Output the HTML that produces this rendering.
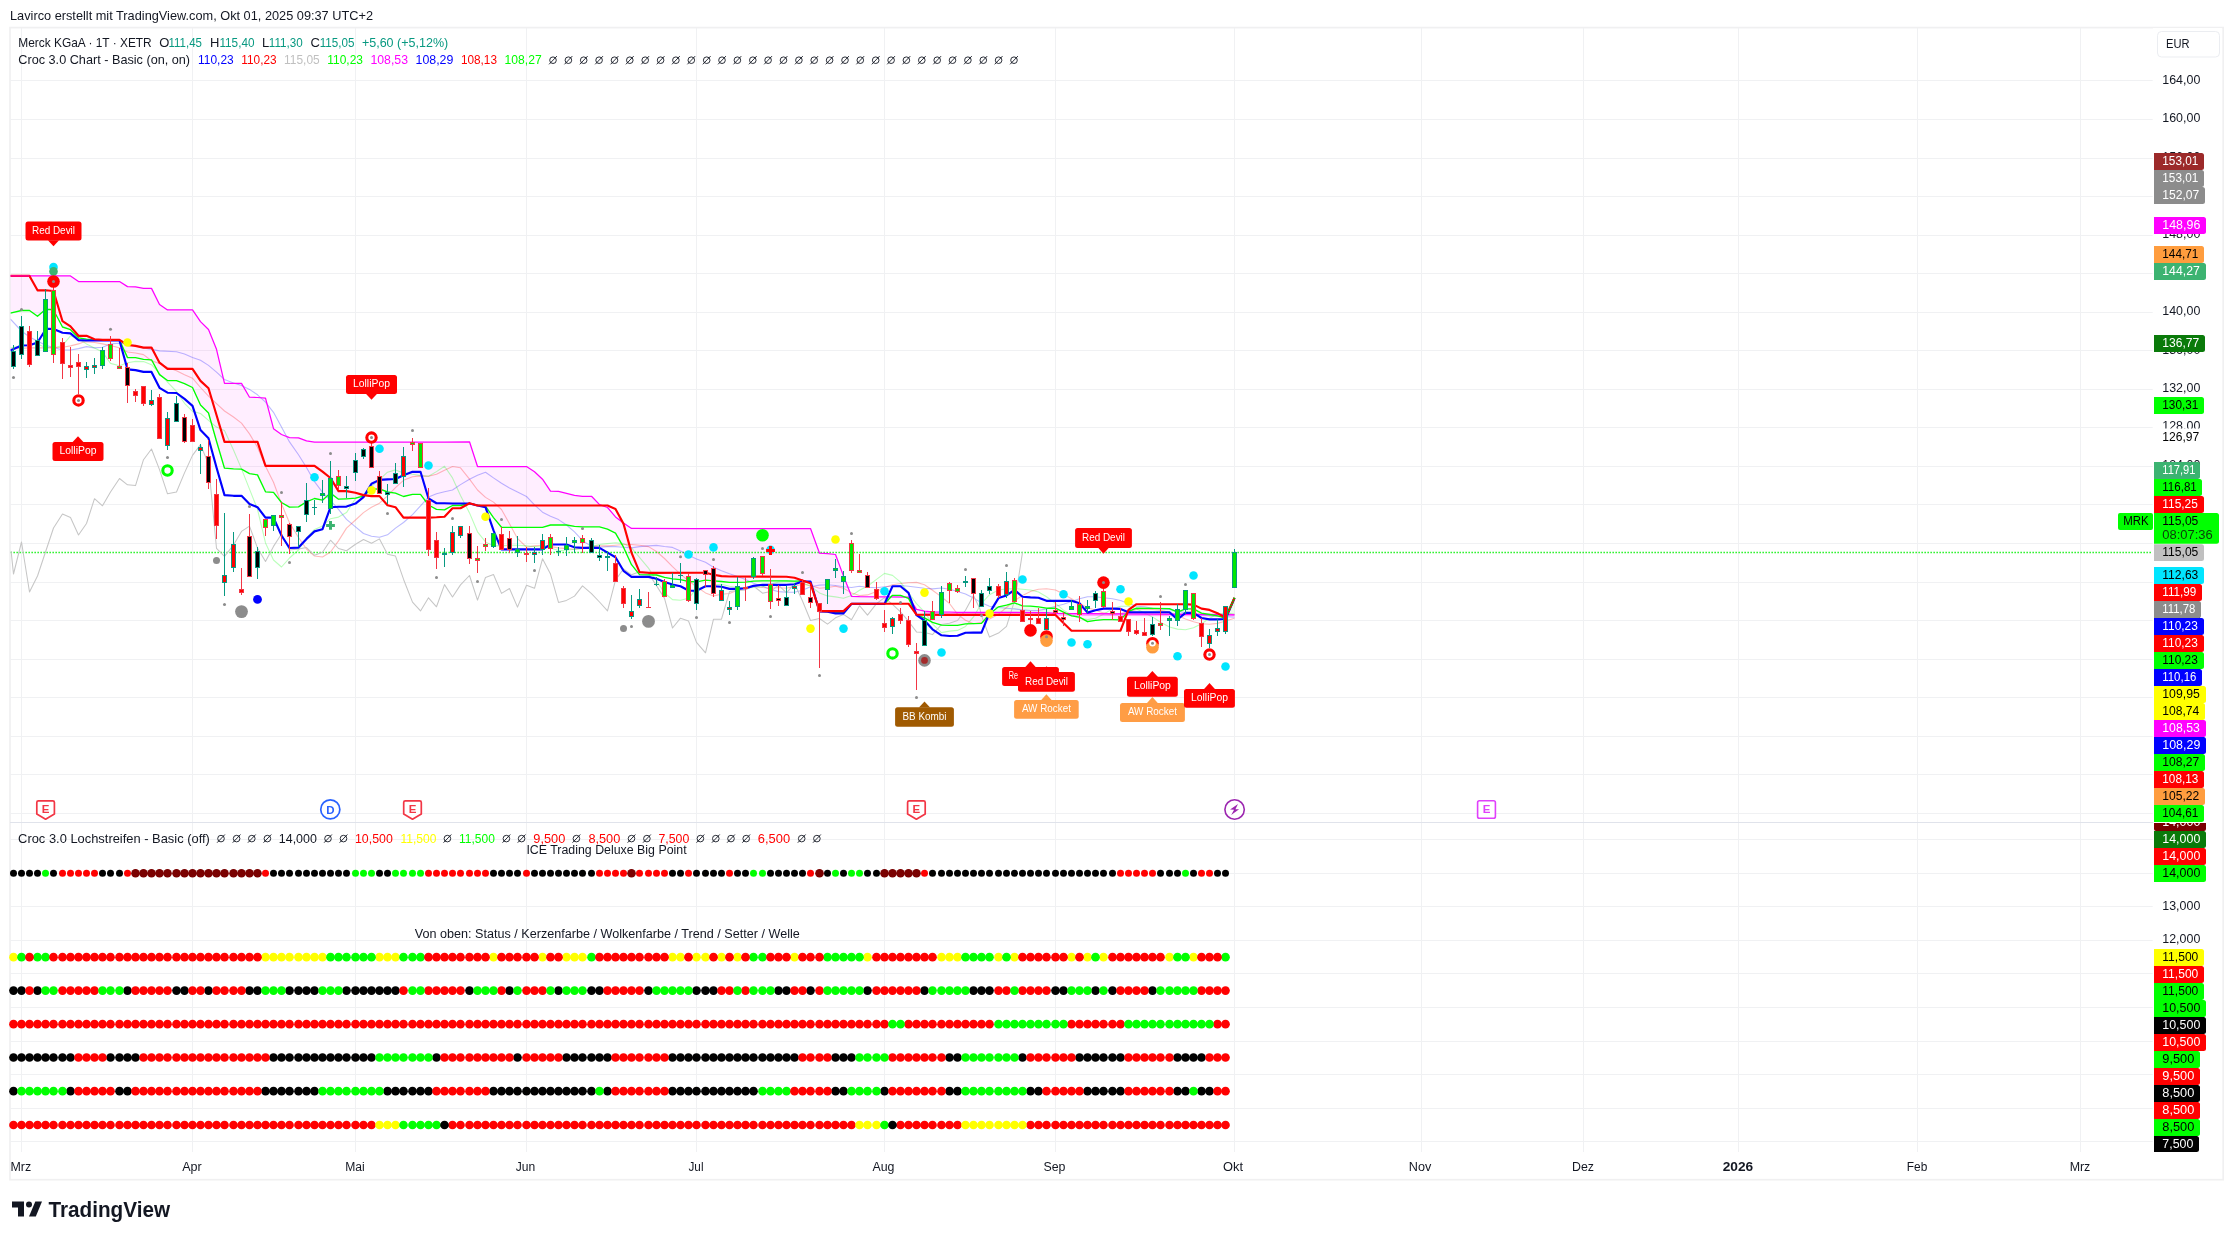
<!DOCTYPE html>
<html lang="de"><head><meta charset="utf-8"><title>Merck KGaA - TradingView</title>
<style>
html,body{margin:0;padding:0;background:#fff;width:2233px;height:1240px;overflow:hidden}
svg{display:block;font-family:"Liberation Sans",sans-serif;will-change:transform;opacity:0.9999}
</style></head><body>
<svg width="2233" height="1240" viewBox="0 0 2233 1240">
<defs>
<clipPath id="cm"><rect x="10.5" y="28" width="2142.5" height="794"/></clipPath>
<clipPath id="cl"><rect x="2150" y="823" width="72" height="330"/></clipPath>
</defs>
<rect x="0" y="0" width="2233" height="1240" fill="#ffffff"/>
<rect x="10" y="27.6" width="2213.2" height="1152.1" fill="none" stroke="#f0f0f1" stroke-width="1.7"/>
<path d="M21.5 28V1152 M192.5 28V1152 M355.5 28V1152 M526.5 28V1152 M696.5 28V1152 M884.5 28V1152 M1055.5 28V1152 M1234.5 28V1152 M1421.5 28V1152 M1583.5 28V1152 M1738.5 28V1152 M1917.5 28V1152 M2080.5 28V1152 M10 80.5H2152.7 M10 119.5H2152.7 M10 158.5H2152.7 M10 196.5H2152.7 M10 235.5H2152.7 M10 273.5H2152.7 M10 312.5H2152.7 M10 350.5H2152.7 M10 389.5H2152.7 M10 427.5H2152.7 M10 466.5H2152.7 M10 504.5H2152.7 M10 543.5H2152.7 M10 582.5H2152.7 M10 620.5H2152.7 M10 659.5H2152.7 M10 697.5H2152.7 M10 736.5H2152.7 M10 774.5H2152.7 M10 813.5H2152.7 M10 839.5H2152.7 M10 873.5H2152.7 M10 906.5H2152.7 M10 940.5H2152.7 M10 973.5H2152.7 M10 1007.5H2152.7 M10 1041.5H2152.7 M10 1074.5H2152.7 M10 1108.5H2152.7 M10 1141.5H2152.7" stroke="#f0f1f3" stroke-width="1" fill="none"/>
<path d="M10 822.5H2222" stroke="#e0e3eb" stroke-width="1"/>
<g id="main" clip-path="url(#cm)">
<polygon points="10.3,275.9 13.5,275.9 15.5,275.9 17.5,275.9 19.5,275.9 21.5,275.9 23.5,275.9 25.5,275.9 27.5,275.9 29.5,275.9 31.5,275.9 33.5,275.9 35.5,275.9 37.5,275.9 39.5,275.9 41.5,275.9 43.5,275.9 45.5,275.9 47.5,275.9 49.5,275.9 51.5,275.9 53.5,275.9 55.8,275.9 58.0,275.9 60.2,275.9 62.5,275.9 64.5,275.9 66.5,275.9 68.5,275.9 70.5,275.9 72.5,277.3 74.5,278.7 76.5,280.1 78.5,281.5 80.5,281.5 82.5,281.5 84.5,281.5 86.5,281.5 88.5,281.5 90.5,281.5 92.5,281.5 94.5,281.5 96.5,281.5 98.5,281.5 100.5,281.5 102.5,281.5 104.5,281.5 106.5,281.5 108.5,281.5 110.5,281.5 112.8,281.5 115.0,281.5 117.2,281.5 119.5,281.5 121.5,282.8 123.5,284.1 125.5,285.3 127.5,286.6 129.5,286.7 131.5,286.8 133.5,286.8 135.5,286.9 137.5,287.3 139.5,287.6 141.5,288.0 143.5,288.4 145.5,288.4 147.5,288.4 149.5,288.4 151.5,288.4 153.5,292.4 155.5,296.4 157.5,300.5 159.5,304.5 161.5,305.9 163.5,307.2 165.5,308.5 167.5,309.9 169.8,309.9 172.0,309.9 174.2,309.9 176.5,309.9 178.5,309.9 180.5,309.9 182.5,309.9 184.5,309.9 186.5,309.9 188.5,309.9 190.5,309.9 192.5,309.9 194.5,312.8 196.5,315.8 198.5,318.7 200.5,321.6 202.5,323.6 204.5,325.6 206.5,327.5 208.5,329.5 210.5,334.4 212.5,339.4 214.5,344.4 216.5,349.3 218.5,357.8 220.5,366.3 222.5,374.8 224.5,383.3 226.8,383.3 229.0,383.3 231.2,383.3 233.5,383.4 235.5,383.4 237.5,383.4 239.5,383.4 241.5,383.4 243.5,386.8 245.5,390.3 247.5,393.8 249.5,397.2 251.5,397.3 253.5,397.4 255.5,397.4 257.5,397.5 259.5,397.7 261.5,397.9 263.5,398.0 265.5,398.2 267.5,405.8 269.5,413.4 271.5,421.1 273.5,428.7 275.5,430.1 277.5,431.6 279.5,433.1 281.5,434.5 283.5,435.3 285.5,436.1 287.5,436.8 289.5,437.6 291.8,437.7 294.0,437.8 296.2,437.8 298.5,437.9 300.5,438.6 302.5,439.4 304.5,440.1 306.5,440.9 308.5,441.2 310.5,441.5 312.5,441.9 314.5,442.2 316.5,442.2 318.5,442.2 320.5,442.2 322.5,442.2 324.5,442.2 326.5,442.2 328.5,442.2 330.5,442.2 332.5,442.2 334.5,442.2 336.5,442.2 338.5,442.2 340.5,442.2 342.5,442.2 344.5,442.2 346.5,442.2 348.8,442.2 351.0,442.2 353.2,442.2 355.5,442.2 357.5,442.2 359.5,442.2 361.5,442.2 363.5,442.2 365.5,442.2 367.5,442.2 369.5,442.2 371.5,442.2 373.5,442.2 375.5,442.2 377.5,442.2 379.5,442.2 381.5,442.2 383.5,442.2 385.5,442.2 387.5,442.2 389.5,442.2 391.5,442.2 393.5,442.2 395.5,442.2 397.5,442.2 399.5,442.2 401.5,442.2 403.5,442.2 405.8,442.2 408.0,442.2 410.2,442.2 412.5,442.2 414.5,442.2 416.5,442.2 418.5,442.2 420.5,442.2 422.5,442.2 424.5,442.2 426.5,442.2 428.5,442.2 430.5,442.2 432.5,442.2 434.5,442.2 436.5,442.2 438.5,442.2 440.5,442.2 442.5,442.2 444.5,442.2 446.5,442.2 448.5,442.1 450.5,442.1 452.5,442.1 454.5,442.0 456.5,442.0 458.5,442.0 460.5,441.9 462.8,441.9 465.0,441.9 467.2,441.8 469.5,441.8 471.5,448.0 473.5,454.1 475.5,460.3 477.5,466.5 479.5,466.5 481.5,466.5 483.5,466.5 485.5,466.5 487.5,466.5 489.5,466.5 491.5,466.5 493.5,466.5 495.5,466.5 497.5,466.5 499.5,466.5 501.5,466.5 503.5,466.5 505.5,466.5 507.5,466.5 509.5,466.5 511.5,466.5 513.5,466.5 515.5,466.5 517.5,466.5 519.8,466.5 522.0,466.5 524.2,466.5 526.5,466.5 528.5,467.8 530.5,469.1 532.5,470.5 534.5,471.8 536.5,473.6 538.5,475.5 540.5,477.4 542.5,479.2 544.5,482.2 546.5,485.1 548.5,488.1 550.5,491.1 552.5,491.2 554.5,491.2 556.5,491.3 558.5,491.4 560.5,491.9 562.5,492.4 564.5,492.9 566.5,493.4 568.5,493.9 570.5,494.4 572.5,494.9 574.5,495.4 576.5,495.6 578.5,495.9 580.5,496.1 582.5,496.3 584.8,496.3 587.0,496.3 589.2,496.3 591.5,496.3 593.5,498.4 595.5,500.5 597.5,502.5 599.5,504.6 601.5,505.3 603.5,506.1 605.5,506.8 607.5,507.5 609.5,509.9 611.5,512.2 613.5,514.5 615.5,516.9 617.5,518.4 619.5,520.0 621.5,521.5 623.5,523.0 625.5,524.4 627.5,525.7 629.5,527.0 631.5,528.4 633.5,528.4 635.5,528.4 637.5,528.4 639.5,528.4 641.8,528.4 644.0,528.4 646.2,528.4 648.5,528.4 650.5,528.4 652.5,528.4 654.5,528.4 656.5,528.4 658.5,528.4 660.5,528.4 662.5,528.4 664.5,528.5 666.5,528.5 668.5,528.5 670.5,528.5 672.5,528.5 674.5,528.5 676.5,528.5 678.5,528.5 680.5,528.5 682.5,528.5 684.5,528.5 686.5,528.5 688.5,528.5 690.5,528.5 692.5,528.5 694.5,528.5 696.5,528.5 698.8,528.5 701.0,528.5 703.2,528.5 705.5,528.5 707.5,528.5 709.5,528.5 711.5,528.5 713.5,528.5 715.5,528.5 717.5,528.5 719.5,528.5 721.5,528.5 723.5,528.5 725.5,528.5 727.5,528.5 729.5,528.5 731.5,528.5 733.5,528.5 735.5,528.5 737.5,528.5 739.5,528.5 741.5,528.5 743.5,528.5 745.5,528.5 747.5,528.5 749.5,528.5 751.5,528.5 753.5,528.5 755.8,528.5 758.0,528.5 760.2,528.5 762.5,528.5 764.5,528.5 766.5,528.5 768.5,528.5 770.5,528.5 772.5,528.5 774.5,528.5 776.5,528.5 778.5,528.5 780.5,528.5 782.5,528.5 784.5,528.5 786.5,528.5 788.5,528.5 790.5,528.5 792.5,528.5 794.5,528.5 796.5,528.5 798.5,528.5 800.5,528.5 802.5,528.5 804.5,528.5 806.5,528.5 808.5,528.5 810.5,528.5 812.8,534.7 815.0,540.9 817.2,547.0 819.5,553.2 821.5,553.3 823.5,553.4 825.5,553.5 827.5,553.6 829.5,553.8 831.5,554.0 833.5,554.3 835.5,554.5 837.5,559.9 839.5,565.3 841.5,570.7 843.5,576.1 845.5,581.1 847.5,586.2 849.5,591.2 851.5,596.3 853.5,596.4 855.5,596.5 857.5,596.6 859.5,596.7 861.5,596.7 863.5,596.7 865.5,596.8 867.5,596.8 869.8,596.8 872.0,596.8 874.2,596.8 876.5,596.9 878.5,596.9 880.5,596.9 882.5,596.9 884.5,597.0 886.5,597.0 888.5,597.0 890.5,597.0 892.5,597.0 892.5,595.3 890.5,597.4 888.5,599.5 886.5,601.6 884.5,603.7 882.5,603.7 880.5,603.7 878.5,603.7 876.5,603.7 874.2,603.7 872.0,603.7 869.8,603.7 867.5,603.7 865.5,603.7 863.5,603.7 861.5,603.7 859.5,603.7 857.5,603.7 855.5,603.7 853.5,603.7 851.5,603.7 849.5,605.8 847.5,608.0 845.5,610.1 843.5,612.2 841.5,612.2 839.5,612.2 837.5,612.2 835.5,612.2 833.5,612.0 831.5,611.9 829.5,611.7 827.5,611.5 825.5,611.4 823.5,611.4 821.5,611.3 819.5,611.2 817.2,604.0 815.0,596.8 812.8,589.6 810.5,582.4 808.5,582.0 806.5,581.6 804.5,581.2 802.5,580.8 800.5,580.9 798.5,581.0 796.5,581.0 794.5,581.1 792.5,581.0 790.5,581.0 788.5,580.9 786.5,580.8 784.5,580.8 782.5,580.8 780.5,580.8 778.5,580.8 776.5,580.8 774.5,580.8 772.5,580.8 770.5,580.8 768.5,580.8 766.5,580.8 764.5,580.8 762.5,580.8 760.2,580.9 758.0,581.0 755.8,581.1 753.5,581.2 751.5,581.4 749.5,581.7 747.5,581.9 745.5,582.1 743.5,582.2 741.5,582.2 739.5,582.3 737.5,582.4 735.5,582.4 733.5,582.4 731.5,582.4 729.5,582.4 727.5,582.2 725.5,582.0 723.5,581.7 721.5,581.5 719.5,581.3 717.5,581.1 715.5,581.0 713.5,580.8 711.5,580.6 709.5,580.5 707.5,580.3 705.5,580.1 703.2,580.5 701.0,581.0 698.8,581.5 696.5,581.9 694.5,581.8 692.5,581.7 690.5,581.6 688.5,581.5 686.5,581.0 684.5,580.6 682.5,580.2 680.5,579.7 678.5,579.5 676.5,579.2 674.5,579.0 672.5,578.8 670.5,578.4 668.5,578.1 666.5,577.8 664.5,577.4 662.5,576.8 660.5,576.2 658.5,575.6 656.5,575.0 654.5,575.0 652.5,574.9 650.5,574.8 648.5,574.8 646.2,574.8 644.0,574.7 641.8,574.6 639.5,574.6 637.5,572.1 635.5,569.7 633.5,567.2 631.5,564.7 629.5,560.3 627.5,556.0 625.5,551.6 623.5,547.2 621.5,543.7 619.5,540.2 617.5,536.6 615.5,533.1 613.5,532.1 611.5,531.1 609.5,530.1 607.5,529.1 605.5,528.5 603.5,528.0 601.5,527.4 599.5,526.8 597.5,526.8 595.5,526.8 593.5,526.8 591.5,526.8 589.2,526.8 587.0,526.8 584.8,526.8 582.5,526.8 580.5,526.7 578.5,526.6 576.5,526.5 574.5,526.4 572.5,526.0 570.5,525.7 568.5,525.4 566.5,525.0 564.5,525.0 562.5,525.0 560.5,525.0 558.5,525.0 556.5,525.0 554.5,525.0 552.5,525.0 550.5,525.0 548.5,525.6 546.5,526.1 544.5,526.7 542.5,527.3 540.5,527.3 538.5,527.3 536.5,527.3 534.5,527.3 532.5,527.3 530.5,527.3 528.5,527.3 526.5,527.3 524.2,527.3 522.0,527.3 519.8,527.3 517.5,527.3 515.5,527.3 513.5,527.3 511.5,527.3 509.5,527.3 507.5,527.3 505.5,527.3 503.5,527.3 501.5,527.3 499.5,524.9 497.5,522.5 495.5,520.0 493.5,517.6 491.5,514.8 489.5,511.9 487.5,509.1 485.5,506.2 483.5,505.9 481.5,505.6 479.5,505.4 477.5,505.1 475.5,504.7 473.5,504.3 471.5,503.9 469.5,503.5 467.2,504.0 465.0,504.5 462.8,505.0 460.5,505.5 458.5,505.5 456.5,505.5 454.5,505.5 452.5,505.5 450.5,506.6 448.5,507.7 446.5,508.8 444.5,509.9 442.5,509.8 440.5,509.6 438.5,509.4 436.5,509.3 434.5,508.2 432.5,507.1 430.5,506.1 428.5,505.0 426.5,502.4 424.5,499.7 422.5,497.0 420.5,494.4 418.5,494.4 416.5,494.4 414.5,494.4 412.5,494.4 410.2,494.9 408.0,495.4 405.8,496.0 403.5,496.5 401.5,495.6 399.5,494.8 397.5,494.0 395.5,493.1 393.5,492.8 391.5,492.6 389.5,492.3 387.5,492.0 385.5,491.2 383.5,490.4 381.5,489.6 379.5,488.8 377.5,488.9 375.5,489.0 373.5,489.0 371.5,489.1 369.5,490.9 367.5,492.6 365.5,494.4 363.5,496.1 361.5,496.6 359.5,497.1 357.5,497.7 355.5,498.2 353.2,498.4 351.0,498.5 348.8,498.6 346.5,498.8 344.5,498.9 342.5,499.0 340.5,499.1 338.5,499.2 336.5,497.7 334.5,496.1 332.5,494.6 330.5,493.1 328.5,494.9 326.5,496.6 324.5,498.4 322.5,500.2 320.5,499.8 318.5,499.4 316.5,498.9 314.5,498.5 312.5,499.4 310.5,500.2 308.5,501.0 306.5,501.9 304.5,503.1 302.5,504.4 300.5,505.6 298.5,506.8 296.2,506.9 294.0,507.0 291.8,507.1 289.5,507.2 287.5,506.0 285.5,504.9 283.5,503.7 281.5,502.5 279.5,500.0 277.5,497.4 275.5,494.9 273.5,492.4 271.5,492.2 269.5,492.1 267.5,491.9 265.5,491.8 263.5,487.6 261.5,483.4 259.5,479.1 257.5,474.9 255.5,474.6 253.5,474.2 251.5,473.9 249.5,473.6 247.5,472.5 245.5,471.4 243.5,470.2 241.5,469.1 239.5,469.1 237.5,469.0 235.5,468.9 233.5,468.9 231.2,468.7 229.0,468.5 226.8,468.4 224.5,468.2 222.5,461.5 220.5,454.8 218.5,448.0 216.5,441.3 214.5,434.2 212.5,427.1 210.5,420.1 208.5,413.0 206.5,411.0 204.5,409.0 202.5,407.0 200.5,405.0 198.5,400.6 196.5,396.2 194.5,391.9 192.5,387.5 190.5,386.5 188.5,385.6 186.5,384.6 184.5,383.6 182.5,382.9 180.5,382.1 178.5,381.4 176.5,380.7 174.2,380.6 172.0,380.6 169.8,380.6 167.5,380.5 165.5,379.0 163.5,377.6 161.5,376.1 159.5,374.6 157.5,370.9 155.5,367.2 153.5,363.5 151.5,359.8 149.5,359.7 147.5,359.6 145.5,359.4 143.5,359.3 141.5,358.9 139.5,358.5 137.5,358.0 135.5,357.6 133.5,357.6 131.5,357.6 129.5,357.6 127.5,357.6 125.5,353.2 123.5,348.9 121.5,344.5 119.5,340.1 117.2,340.1 115.0,340.1 112.8,340.1 110.5,340.1 108.5,340.1 106.5,340.1 104.5,340.1 102.5,340.1 100.5,340.1 98.5,340.1 96.5,340.1 94.5,340.1 92.5,339.9 90.5,339.6 88.5,339.4 86.5,339.2 84.5,338.9 82.5,338.5 80.5,338.1 78.5,337.8 76.5,335.8 74.5,333.8 72.5,331.7 70.5,329.7 68.5,329.0 66.5,328.4 64.5,327.7 62.5,327.0 60.2,322.8 58.0,318.5 55.8,314.2 53.5,310.0 51.5,309.7 49.5,309.5 47.5,309.5 45.5,309.5 43.5,311.2 41.5,312.9 39.5,314.6 37.5,316.3 35.5,314.9 33.5,313.4 31.5,311.9 29.5,310.5 27.5,310.5 25.5,310.5 23.5,310.5 21.5,310.5 19.5,311.0 17.5,311.5 15.5,311.9 13.5,312.4 10.3,313.2" fill="#ff00ff" fill-opacity="0.065"/>
<polygon points="892.5,597.0 894.5,597.1 896.5,597.1 898.5,597.1 900.5,597.1 902.5,597.1 904.5,597.2 906.5,597.2 906.5,597.5 904.5,596.8 902.5,596.0 900.5,595.3 898.5,595.3 896.5,595.3 894.5,595.3 892.5,595.3" fill="#00ff00" fill-opacity="0.07"/>
<polygon points="906.5,597.2 908.5,597.2 910.5,600.2 912.5,603.2 914.5,606.3 916.5,609.3 918.5,609.8 920.5,610.2 922.5,610.6 924.5,611.1 926.5,611.3 928.5,611.5 930.5,611.6 932.5,611.8 934.8,611.8 937.0,611.8 939.2,611.9 941.5,611.9 943.5,611.9 945.5,612.0 947.5,612.0 949.5,612.0 951.5,612.1 953.5,612.1 955.5,612.2 957.5,612.3 959.5,612.3 961.5,612.3 963.5,612.3 965.5,612.3 967.5,612.3 969.5,612.3 971.5,612.3 973.5,612.3 975.5,612.3 977.5,612.3 979.5,612.3 981.5,612.4 983.5,612.4 985.5,612.4 987.5,612.4 989.5,612.4 991.8,612.4 991.8,612.2 989.5,614.0 987.5,616.4 985.5,618.7 983.5,621.0 981.5,623.4 979.5,623.5 977.5,623.5 975.5,623.6 973.5,623.7 971.5,623.8 969.5,623.8 967.5,623.9 965.5,623.9 963.5,624.2 961.5,624.6 959.5,624.9 957.5,625.3 955.5,625.3 953.5,625.3 951.5,625.4 949.5,625.4 947.5,625.4 945.5,625.3 943.5,625.2 941.5,625.2 939.2,624.5 937.0,623.8 934.8,623.0 932.5,622.3 930.5,621.2 928.5,620.0 926.5,618.9 924.5,617.8 922.5,617.1 920.5,616.5 918.5,615.8 916.5,615.1 914.5,610.9 912.5,606.7 910.5,602.5 908.5,598.3 906.5,597.5" fill="#ff00ff" fill-opacity="0.065"/>
<polygon points="991.8,612.4 994.0,612.4 996.2,612.4 998.5,612.4 1000.5,612.4 1002.5,612.4 1004.5,612.4 1006.5,612.4 1008.5,612.4 1010.5,612.4 1012.5,612.4 1014.5,612.4 1016.5,612.4 1018.5,612.4 1020.5,612.4 1022.5,612.4 1024.5,612.5 1026.5,612.5 1028.5,612.5 1030.5,612.5 1032.5,612.5 1034.5,612.5 1036.5,612.5 1038.5,612.5 1040.5,612.5 1042.5,612.5 1044.5,612.5 1046.5,612.5 1048.8,612.7 1051.0,612.9 1053.2,613.1 1055.5,613.3 1057.5,613.3 1059.5,613.3 1061.5,613.3 1063.5,613.4 1065.5,613.4 1067.5,613.4 1067.5,614.0 1065.5,613.1 1063.5,612.2 1061.5,611.2 1059.5,610.2 1057.5,609.2 1055.5,608.2 1053.2,608.2 1051.0,608.2 1048.8,608.2 1046.5,608.2 1044.5,607.9 1042.5,607.5 1040.5,607.1 1038.5,606.8 1036.5,606.6 1034.5,606.5 1032.5,606.4 1030.5,606.2 1028.5,606.1 1026.5,606.0 1024.5,606.0 1022.5,605.9 1020.5,605.1 1018.5,604.3 1016.5,603.6 1014.5,602.8 1012.5,603.4 1010.5,604.0 1008.5,604.5 1006.5,605.1 1004.5,605.5 1002.5,606.0 1000.5,606.4 998.5,606.8 996.2,608.6 994.0,610.4 991.8,612.2" fill="#00ff00" fill-opacity="0.07"/>
<polygon points="1067.5,613.4 1069.5,613.4 1071.5,613.4 1073.5,613.4 1075.5,613.4 1077.5,613.5 1079.5,613.5 1081.5,613.5 1083.5,613.5 1085.5,613.5 1087.5,613.5 1089.5,613.5 1091.5,613.6 1093.5,613.6 1095.5,613.6 1097.5,613.6 1099.5,613.6 1101.5,613.6 1103.5,613.6 1105.8,613.7 1108.0,613.7 1110.2,613.7 1112.5,613.7 1114.5,613.7 1116.5,613.7 1118.5,613.8 1120.5,613.8 1122.5,613.8 1124.5,613.8 1126.5,613.8 1126.5,613.4 1124.5,615.6 1122.5,617.8 1120.5,619.9 1118.5,619.8 1116.5,619.8 1114.5,619.7 1112.5,619.6 1110.2,619.6 1108.0,619.6 1105.8,619.6 1103.5,619.6 1101.5,619.8 1099.5,620.0 1097.5,620.1 1095.5,620.3 1093.5,620.6 1091.5,621.0 1089.5,621.4 1087.5,621.7 1085.5,620.6 1083.5,619.5 1081.5,618.3 1079.5,617.2 1077.5,616.9 1075.5,616.5 1073.5,616.2 1071.5,615.9 1069.5,615.0 1067.5,614.0" fill="#ff00ff" fill-opacity="0.065"/>
<polygon points="1126.5,613.8 1128.5,613.8 1130.5,613.8 1132.5,613.9 1134.5,613.9 1136.5,613.9 1138.5,613.9 1140.5,613.9 1142.5,613.9 1144.5,613.9 1146.5,614.0 1148.5,614.0 1150.5,614.0 1152.5,614.0 1154.5,614.0 1156.5,614.0 1158.5,614.1 1160.5,614.1 1162.8,614.1 1165.0,614.1 1167.2,614.1 1169.5,614.2 1171.5,614.2 1173.5,614.2 1175.5,614.2 1177.5,614.2 1179.5,614.3 1181.5,614.3 1183.5,614.3 1185.5,614.3 1187.5,614.3 1189.5,614.4 1191.5,614.4 1193.5,614.4 1195.5,614.4 1197.5,614.4 1199.5,614.4 1201.5,614.5 1203.5,614.5 1205.5,614.5 1207.5,614.5 1209.5,614.5 1211.5,614.6 1211.5,614.9 1209.5,614.5 1207.5,614.2 1205.5,613.9 1203.5,613.5 1201.5,613.2 1199.5,612.1 1197.5,611.0 1195.5,610.0 1193.5,608.9 1191.5,608.9 1189.5,608.9 1187.5,608.9 1185.5,608.9 1183.5,609.7 1181.5,610.5 1179.5,611.4 1177.5,612.2 1175.5,611.3 1173.5,610.4 1171.5,609.5 1169.5,608.6 1167.2,608.6 1165.0,608.6 1162.8,608.5 1160.5,608.5 1158.5,608.5 1156.5,608.5 1154.5,608.4 1152.5,608.4 1150.5,608.4 1148.5,608.4 1146.5,608.3 1144.5,608.3 1142.5,608.3 1140.5,608.2 1138.5,608.2 1136.5,608.2 1134.5,609.0 1132.5,609.8 1130.5,610.5 1128.5,611.3 1126.5,613.4" fill="#00ff00" fill-opacity="0.07"/>
<polygon points="1211.5,614.6 1213.5,614.6 1215.5,614.6 1217.5,614.6 1219.5,614.6 1221.5,614.7 1223.5,614.7 1225.5,614.7 1227.8,614.8 1227.8,613.0 1225.5,618.0 1223.5,617.5 1221.5,617.0 1219.5,616.4 1217.5,615.9 1215.5,615.5 1213.5,615.2 1211.5,614.9" fill="#ff00ff" fill-opacity="0.065"/>
<polygon points="1227.8,614.8 1230.0,614.8 1232.2,614.9 1234.5,614.9 1234.5,597.8 1232.2,602.8 1230.0,607.9 1227.8,613.0" fill="#00ff00" fill-opacity="0.07"/>
<path d="M10.5 552.5H2152" stroke="#00f000" stroke-width="1.3" stroke-dasharray="1.3 1.7" fill="none"/>
<polyline points="10.3,319.0 21.5,331.0 29.5,337.0 37.5,341.0 45.5,345.2 62.5,350.0 70.5,350.0 78.5,348.6 86.5,346.6 94.5,347.9 102.5,347.2 110.5,343.9 119.5,343.2 127.5,343.9 143.5,347.9 159.5,350.9 176.5,351.7 184.5,354.0 192.5,357.6 200.5,360.3 208.5,365.4 216.5,372.1 224.5,379.5 233.5,382.9 241.5,385.4 249.5,389.4 257.5,394.8 265.5,402.2 273.5,412.3 281.5,427.1 289.5,441.9 298.5,454.7 306.5,467.5 314.5,481.7 322.5,492.4 330.5,500.5 338.5,509.3 346.5,519.4 355.5,526.8 363.5,533.5 371.5,536.2 379.5,537.3 387.5,534.8 395.5,528.1 403.5,522.5 412.5,514.6 420.5,505.9 428.5,497.1 436.5,493.8 444.5,491.8 452.5,490.0 460.5,484.6 469.5,479.2 477.5,475.2 485.5,472.2 493.5,477.9 501.5,483.3 509.5,488.0 517.5,492.0 526.5,496.5 534.5,504.8 542.5,512.2 550.5,516.3 558.5,519.6 566.5,525.0 574.5,531.8 582.5,540.5 591.5,546.6 599.5,547.2 607.5,546.6 615.5,546.6 623.5,547.2 631.5,547.9 639.5,546.6 648.5,545.9 656.5,545.4 664.5,546.5 672.5,547.4 680.5,550.9 688.5,555.2 696.5,559.0 705.5,562.2 713.5,567.3 721.5,570.7 729.5,573.8 737.5,576.5 745.5,579.4 753.5,583.2 762.5,586.2 770.5,589.5 778.5,591.6 786.5,592.2 794.5,592.2 802.5,590.2 810.5,586.8 819.5,585.1 827.5,584.8 835.5,585.5 843.5,586.8 851.5,587.5 859.5,586.2 867.5,587.2 876.5,587.8 884.5,586.8 892.5,586.2 900.5,585.5 908.5,586.2 916.5,587.2 924.5,588.2 932.5,588.9 941.5,588.0 949.5,589.3 957.5,591.4 965.5,594.1 973.5,598.1 981.5,602.8 989.5,606.2 998.5,607.5 1006.5,608.2 1014.5,608.9 1022.5,609.9 1030.5,610.5 1038.5,610.5 1046.5,608.9 1055.5,606.2 1063.5,604.2 1071.5,601.5 1079.5,598.8 1087.5,596.7 1095.5,596.7 1103.5,597.8 1112.5,598.8 1120.5,600.5 1128.5,603.5 1136.5,606.2 1144.5,606.8 1152.5,608.2 1160.5,608.9 1169.5,609.5 1177.5,610.9 1185.5,612.9 1193.5,614.2 1201.5,614.9 1209.5,615.6 1217.5,616.3 1225.5,616.7 1234.5,617.2" fill="none" stroke="#0000ff" stroke-opacity="0.27" stroke-width="1.1" stroke-linejoin="round"/>
<polyline points="10.3,349.0 29.5,347.9 45.5,347.9 62.5,347.2 70.5,345.9 78.5,343.9 84.1,341.8 94.5,342.5 102.5,343.9 110.5,345.5 119.5,347.9 127.5,352.0 135.5,353.0 143.5,354.6 151.5,360.7 159.5,363.4 167.5,367.4 176.5,370.8 184.5,374.8 192.5,378.2 200.5,387.5 208.5,396.2 216.5,403.6 224.5,411.0 233.5,417.0 241.5,423.1 249.5,433.9 257.5,447.3 265.5,466.2 273.5,482.3 281.5,503.9 289.5,522.7 298.5,537.5 306.5,549.0 314.5,556.0 322.5,557.0 330.5,552.0 338.5,540.9 346.5,528.1 355.5,520.0 363.5,512.6 371.5,507.2 379.5,503.2 387.5,495.8 395.5,487.7 403.5,480.3 412.5,476.7 420.5,475.9 428.5,476.3 436.5,474.3 444.5,470.2 452.5,466.5 460.5,467.8 469.5,479.2 477.5,490.0 485.5,497.4 493.5,502.1 501.5,509.5 509.5,523.7 517.5,538.5 526.5,547.2 534.5,545.9 542.5,545.2 550.5,546.6 558.5,547.9 566.5,548.6 574.5,549.3 582.5,547.9 591.5,546.6 599.5,545.9 607.5,545.9 615.5,545.2 623.5,544.5 631.5,544.5 639.5,545.2 648.5,546.6 656.5,551.5 664.5,558.5 672.5,566.6 680.5,574.1 688.5,580.8 696.5,586.8 705.5,592.9 713.5,595.9 721.5,594.3 729.5,593.5 737.5,590.2 745.5,587.5 753.5,586.2 762.5,587.5 770.5,588.2 778.5,587.5 786.5,588.2 794.5,586.2 802.5,584.2 810.5,585.5 819.5,588.2 827.5,587.5 835.5,586.2 843.5,588.2 851.5,592.9 859.5,595.6 867.5,594.9 876.5,591.6 884.5,587.5 892.5,584.8 900.5,583.5 908.5,582.8 916.5,582.4 924.5,584.8 932.5,590.2 941.5,596.9 949.5,603.5 957.5,614.2 965.5,620.3 973.5,623.7 981.5,622.3 989.5,619.0 998.5,614.2 1006.5,607.5 1014.5,600.8 1022.5,595.4 1030.5,591.4 1038.5,589.3 1046.5,588.7 1055.5,590.0 1063.5,594.1 1071.5,598.8 1079.5,603.5 1087.5,607.5 1095.5,610.2 1103.5,612.9 1112.5,614.2 1120.5,613.6 1128.5,611.6 1136.5,609.5 1144.5,608.9 1152.5,609.5 1160.5,610.2 1169.5,612.2 1177.5,615.6 1185.5,619.0 1193.5,621.7 1201.5,623.7 1209.5,624.3 1217.5,623.4 1225.5,621.0 1234.5,618.3" fill="none" stroke="#ff0000" stroke-opacity="0.27" stroke-width="1.1" stroke-linejoin="round"/>
<polyline points="10.3,348.0 21.5,345.5 29.5,345.0 37.5,343.9 45.5,347.5 53.5,348.0 62.5,345.5 70.5,335.8 78.5,339.0 86.5,343.9 94.5,347.9 102.5,352.0 110.5,363.4 119.5,365.7 127.5,362.7 135.5,361.4 143.5,361.6 151.5,364.7 159.5,373.5 167.5,382.2 176.5,391.5 184.5,403.3 192.5,411.4 200.5,413.5 208.5,420.4 216.5,427.1 224.5,430.5 233.5,450.0 241.5,468.9 249.5,489.1 257.5,509.3 265.5,542.9 273.5,560.0 281.5,567.0 289.5,558.0 298.5,550.0 306.5,538.0 314.5,529.5 322.5,526.1 330.5,518.7 338.5,517.1 346.5,512.6 355.5,498.5 363.5,494.4 371.5,486.4 379.5,479.6 387.5,472.2 395.5,469.9 403.5,472.9 412.5,474.3 420.5,475.6 428.5,476.3 436.5,471.6 444.5,466.2 452.5,477.9 460.5,495.4 469.5,512.9 477.5,531.8 485.5,541.9 493.5,545.9 501.5,545.9 509.5,545.2 517.5,545.2 526.5,545.9 534.5,546.5 542.5,547.0 550.5,547.9 558.5,550.6 566.5,550.3 574.5,549.3 582.5,548.6 591.5,546.6 599.5,544.5 607.5,543.6 615.5,542.8 623.5,543.6 631.5,547.9 639.5,557.3 648.5,568.1 656.5,580.8 664.5,592.9 672.5,599.6 680.5,600.3 688.5,598.3 696.5,588.9 705.5,586.2 713.5,584.8 721.5,584.2 729.5,586.2 737.5,587.5 745.5,588.2 753.5,587.5 762.5,586.8 770.5,584.2 778.5,582.1 786.5,581.5 794.5,581.9 802.5,582.8 810.5,586.2 819.5,592.9 827.5,595.9 835.5,596.9 843.5,598.3 851.5,595.6 859.5,590.2 867.5,586.2 876.5,579.4 884.5,573.4 892.5,575.4 900.5,582.1 908.5,592.9 916.5,603.7 924.5,611.8 932.5,623.9 941.5,632.6 949.5,631.1 957.5,630.4 965.5,626.4 973.5,616.9 981.5,603.5 989.5,594.7 998.5,590.0 1006.5,588.9 1014.5,588.7 1022.5,589.3 1030.5,590.0 1038.5,592.0 1046.5,596.7 1055.5,603.5 1063.5,610.2 1071.5,614.9 1079.5,618.3 1087.5,619.6 1095.5,618.3 1103.5,614.2 1112.5,608.9 1120.5,606.2 1128.5,606.2 1136.5,608.9 1144.5,612.9 1152.5,616.9 1160.5,622.3 1169.5,627.0 1177.5,629.1 1185.5,629.7 1193.5,627.7 1201.5,623.7 1209.5,618.3 1217.5,614.2 1225.5,612.9 1234.5,614.2" fill="none" stroke="#00ff00" stroke-opacity="0.27" stroke-width="1.1" stroke-linejoin="round"/>
<polyline points="11.1,551.0 13.5,574.0 21.5,542.0 29.5,592.0 37.5,576.0 45.5,552.0 53.5,528.0 62.5,514.0 70.5,517.5 78.5,535.0 86.5,523.5 94.5,498.7 102.5,505.8 110.5,492.0 119.5,478.5 127.5,484.8 135.5,485.6 143.5,459.7 151.5,449.0 159.5,469.6 167.5,493.8 176.5,492.0 184.5,472.9 192.5,455.4 200.5,444.6 208.5,464.0 216.5,548.3 224.5,556.4 233.5,545.0 241.5,531.4 249.5,526.1 257.5,548.0 265.5,561.5 273.5,546.4 281.5,534.0 289.5,550.0 298.5,549.0 306.5,547.6 314.5,555.3 322.5,552.3 330.5,540.2 338.5,548.5 346.5,550.7 355.5,544.2 363.5,539.5 371.5,543.2 379.5,538.9 387.5,554.3 395.5,556.1 403.5,579.2 412.5,602.1 420.5,610.9 428.5,597.8 436.5,606.8 444.5,584.6 452.5,597.0 460.5,584.9 469.5,575.5 477.5,600.1 485.5,577.5 493.5,574.5 501.5,593.4 509.5,588.5 517.5,607.1 526.5,585.3 534.5,588.3 542.5,558.8 550.5,574.1 558.5,602.4 566.5,600.4 574.5,596.1 582.5,585.9 591.5,593.7 599.5,602.0 607.5,610.9 615.5,580.2 623.5,568.8 631.5,574.8 639.5,571.8 648.5,573.5 656.5,585.6 664.5,598.4 672.5,628.0 680.5,618.2 688.5,621.0 696.5,642.4 705.5,652.8 713.5,619.2 721.5,619.2 729.5,591.6 737.5,590.5 745.5,589.9 753.5,586.0 762.5,593.2 770.5,591.6 778.5,585.1 786.5,592.9 794.5,583.5 802.5,601.0 810.5,620.5 819.5,618.5 827.5,624.1 835.5,617.8 843.5,614.4 851.5,619.8 859.5,605.7 867.5,615.1 876.5,603.7 884.5,597.6 892.5,604.3 900.5,611.8 908.5,621.2 916.5,631.9 924.5,632.6 932.5,634.6 941.5,624.5 949.5,623.2 957.5,620.5 965.5,610.2 973.5,595.4 979.9,609.0 981.5,615.6 989.5,637.1 998.5,633.1 1006.5,626.4 1014.5,600.8 1018.5,578.0 1022.5,552.3" fill="none" stroke="#c6c6c6" stroke-width="1.05" stroke-linejoin="round"/>
<polyline points="10.3,275.9 70.5,275.9 78.5,281.5 119.5,281.5 127.5,286.6 135.5,286.9 143.5,288.4 151.5,288.4 159.5,304.5 167.5,309.9 192.5,309.9 200.5,321.6 208.5,329.5 216.5,349.3 224.5,383.3 241.5,383.4 249.5,397.2 257.5,397.5 265.5,398.2 273.5,428.7 281.5,434.5 289.5,437.6 298.5,437.9 306.5,440.9 314.5,442.2 444.5,442.2 469.5,441.8 477.5,466.5 526.5,466.5 534.5,471.8 542.5,479.2 550.5,491.1 558.5,491.4 566.5,493.4 574.5,495.4 582.5,496.3 591.5,496.3 599.5,504.6 607.5,507.5 615.5,516.9 623.5,523.0 631.5,528.4 696.5,528.5 810.5,528.5 819.5,553.2 827.5,553.6 835.5,554.5 843.5,576.1 851.5,596.3 859.5,596.7 908.5,597.2 916.5,609.3 924.5,611.1 932.5,611.8 949.5,612.0 957.5,612.3 1046.5,612.5 1055.5,613.3 1152.5,614.0 1225.5,614.7 1234.5,614.9" fill="none" stroke="#ff00ff" stroke-width="1.25" stroke-linejoin="round"/>
<path d="M924.5 613.2L1055.5 614.4L1234.5 615.2" fill="none" stroke="#ff00ff" stroke-opacity="0.35" stroke-width="2.8"/>
<polyline points="10.3,313.2 21.5,310.5 29.5,310.5 37.5,316.3 45.5,309.5 50.3,309.5 53.5,310.0 62.5,327.0 70.5,329.7 78.5,337.8 86.5,339.2 94.5,340.1 119.5,340.1 127.5,357.6 135.5,357.6 143.5,359.3 151.5,359.8 159.5,374.6 167.5,380.5 176.5,380.7 184.5,383.6 192.5,387.5 200.5,405.0 208.5,413.0 216.5,441.3 224.5,468.2 233.5,468.9 241.5,469.1 249.5,473.6 257.5,474.9 265.5,491.8 273.5,492.4 281.5,502.5 289.5,507.2 298.5,506.8 306.5,501.9 314.5,498.5 322.5,500.2 330.5,493.1 338.5,499.2 346.5,498.8 355.5,498.2 363.5,496.1 371.5,489.1 379.5,488.8 387.5,492.0 395.5,493.1 403.5,496.5 412.5,494.4 420.5,494.4 428.5,505.0 436.5,509.3 444.5,509.9 452.5,505.5 460.5,505.5 469.5,503.5 477.5,505.1 485.5,506.2 493.5,517.6 501.5,527.3 542.5,527.3 550.5,525.0 566.5,525.0 574.5,526.4 582.5,526.8 599.5,526.8 607.5,529.1 615.5,533.1 623.5,547.2 631.5,564.7 639.5,574.6 648.5,574.8 656.5,575.0 664.5,577.4 672.5,578.8 680.5,579.7 688.5,581.5 696.5,581.9 705.5,580.1 713.5,580.8 721.5,581.5 729.5,582.4 737.5,582.4 745.5,582.1 753.5,581.2 762.5,580.8 786.5,580.8 794.5,581.1 802.5,580.8 810.5,582.4 819.5,611.2 827.5,611.5 835.5,612.2 843.5,612.2 851.5,603.7 884.5,603.7 892.5,595.3 900.5,595.3 908.5,598.3 916.5,615.1 924.5,617.8 932.5,622.3 941.5,625.2 949.5,625.4 957.5,625.3 965.5,623.9 973.5,623.7 981.5,623.4 989.5,614.0 998.5,606.8 1006.5,605.1 1014.5,602.8 1022.5,605.9 1030.5,606.2 1038.5,606.8 1046.5,608.2 1055.5,608.2 1063.5,612.2 1071.5,615.9 1079.5,617.2 1087.5,621.7 1095.5,620.3 1103.5,619.6 1112.5,619.6 1120.5,619.9 1128.5,611.3 1136.5,608.2 1169.5,608.6 1177.5,612.2 1185.5,608.9 1193.5,608.9 1201.5,613.2 1209.5,614.5 1217.5,615.9 1225.5,618.0 1234.5,597.8" fill="none" stroke="#00ff00" stroke-width="1.35" stroke-linejoin="round"/>
<polyline points="10.3,350.6 21.5,345.5 29.5,345.2 37.5,342.5 45.5,329.7 48.7,328.8 53.5,329.0 62.5,332.8 70.5,333.4 78.5,340.1 86.5,340.5 119.5,340.5 127.5,369.4 135.5,370.1 143.5,371.9 151.5,371.9 159.5,387.8 167.5,392.7 176.5,393.0 184.5,398.9 192.5,405.9 200.5,430.1 208.5,438.2 216.5,467.5 224.5,495.1 233.5,495.8 241.5,495.8 249.5,503.9 257.5,507.2 265.5,517.6 273.5,517.6 281.5,535.5 289.5,548.0 298.5,547.6 306.5,538.9 314.5,531.4 322.5,529.2 330.5,507.2 338.5,506.8 346.5,506.6 355.5,503.6 363.5,497.1 371.5,483.7 379.5,479.9 387.5,479.4 395.5,479.0 403.5,475.3 412.5,471.8 420.5,471.8 428.5,498.5 436.5,503.2 444.5,503.2 452.5,503.5 469.5,503.5 477.5,505.5 485.5,507.2 493.5,530.4 501.5,549.3 542.5,549.3 550.5,544.5 566.5,544.5 574.5,547.2 582.5,547.9 599.5,547.9 607.5,552.6 615.5,557.3 623.5,570.8 631.5,576.9 648.5,576.9 656.5,578.8 664.5,581.9 672.5,584.6 680.5,586.2 688.5,590.5 696.5,590.9 705.5,586.2 713.5,586.2 721.5,586.8 729.5,588.9 737.5,588.9 745.5,588.2 753.5,585.9 762.5,584.8 786.5,584.8 794.5,584.2 802.5,581.5 810.5,581.5 819.5,611.5 827.5,611.8 835.5,613.4 843.5,613.4 851.5,603.9 884.5,603.9 892.5,586.2 900.5,586.2 908.5,592.9 916.5,615.1 924.5,620.5 932.5,629.3 941.5,635.3 949.5,636.0 957.5,635.8 965.5,632.8 973.5,632.6 981.5,632.6 989.5,612.9 998.5,598.1 1006.5,595.4 1014.5,590.0 1022.5,596.7 1030.5,597.4 1038.5,597.8 1046.5,600.8 1071.5,600.8 1079.5,603.2 1087.5,612.6 1095.5,610.2 1103.5,608.6 1112.5,608.6 1120.5,608.9 1128.5,612.2 1169.5,612.2 1177.5,619.4 1185.5,612.9 1193.5,612.9 1201.5,618.0 1209.5,619.4 1217.5,619.4 1225.5,619.0 1234.5,598.1" fill="none" stroke="#0000ff" stroke-width="2.15" stroke-linejoin="round"/>
<polyline points="10.3,275.9 29.5,275.9 37.5,290.3 45.5,290.3 53.5,291.0 62.5,321.2 70.5,326.4 78.5,335.8 86.5,335.8 94.5,339.2 102.5,339.8 119.5,339.8 127.5,345.0 135.5,345.9 143.5,347.6 151.5,347.6 159.5,362.7 167.5,368.8 192.5,368.8 200.5,380.9 208.5,388.2 216.5,415.0 224.5,441.9 257.5,441.9 265.5,465.8 314.5,465.8 322.5,471.6 330.5,478.0 338.5,491.1 346.5,491.1 355.5,492.8 363.5,495.1 371.5,496.1 379.5,496.1 387.5,505.2 395.5,507.2 403.5,517.6 428.5,517.6 436.5,517.3 444.5,516.7 452.5,508.2 460.5,508.2 469.5,503.2 477.5,505.5 607.5,505.5 615.5,508.9 623.5,523.7 631.5,552.6 639.5,572.1 648.5,572.8 696.5,572.7 705.5,572.7 713.5,574.7 721.5,576.1 729.5,576.5 786.5,576.7 794.5,577.8 802.5,580.5 810.5,583.2 819.5,611.1 843.5,611.1 851.5,603.7 908.5,603.7 916.5,614.7 949.5,614.8 957.5,614.9 1055.5,614.9 1063.5,623.0 1071.5,630.7 1120.5,630.7 1128.5,609.9 1136.5,604.2 1185.5,604.2 1193.5,604.6 1201.5,608.6 1209.5,609.9 1217.5,613.2 1225.5,618.0 1234.5,597.8" fill="none" stroke="#ff0000" stroke-width="2.15" stroke-linejoin="round"/>
<path d="M10.3 275.9H29.5" stroke="#ff00ff" stroke-opacity="0.55" stroke-width="1.6" fill="none"/>
<path d="M1225.5 618L1234.5 597.8" stroke="#00c800" stroke-width="2.15" stroke-dasharray="1.3 1.3" fill="none"/>
<rect x="13.0" y="345" width="1" height="24" fill="#089981"/>
<rect x="11.0" y="351" width="5" height="16" fill="#089981"/>
<rect x="12.0" y="352" width="3" height="14" fill="#000000"/>
<rect x="21.0" y="316" width="1" height="43" fill="#089981"/>
<rect x="19.0" y="326" width="5" height="29" fill="#089981"/>
<rect x="20.0" y="327" width="3" height="27" fill="#000000"/>
<rect x="29.0" y="326" width="1" height="41" fill="#f23645"/>
<rect x="27.0" y="331" width="5" height="34" fill="#f23645"/>
<rect x="28.0" y="332" width="3" height="32" fill="#ff0000"/>
<rect x="37.0" y="331" width="1" height="25" fill="#089981"/>
<rect x="35.0" y="340" width="5" height="16" fill="#089981"/>
<rect x="36.0" y="341" width="3" height="14" fill="#000000"/>
<rect x="45.0" y="289" width="1" height="63" fill="#089981"/>
<rect x="43.0" y="299" width="5" height="53" fill="#089981"/>
<rect x="44.0" y="300" width="3" height="51" fill="#00e600"/>
<rect x="53.0" y="287" width="1" height="76" fill="#f23645"/>
<rect x="51.0" y="290" width="5" height="65" fill="#f23645"/>
<rect x="52.0" y="291" width="3" height="63" fill="#00e600"/>
<rect x="62.0" y="338" width="1" height="41" fill="#f23645"/>
<rect x="60.0" y="342" width="5" height="22" fill="#f23645"/>
<rect x="61.0" y="343" width="3" height="20" fill="#ff0000"/>
<rect x="70.0" y="347" width="1" height="30" fill="#f23645"/>
<rect x="68.0" y="365" width="5" height="3" fill="#f23645"/>
<rect x="69.0" y="366" width="3" height="1" fill="#ff0000"/>
<rect x="78.0" y="354" width="1" height="40" fill="#f23645"/>
<rect x="76.0" y="362" width="5" height="5" fill="#f23645"/>
<rect x="77.0" y="363" width="3" height="3" fill="#ff0000"/>
<rect x="86.0" y="362" width="1" height="16" fill="#089981"/>
<rect x="84.0" y="366" width="5" height="4" fill="#089981"/>
<rect x="85.0" y="367" width="3" height="2" fill="#ff0000"/>
<rect x="94.0" y="358" width="1" height="16" fill="#089981"/>
<rect x="92.0" y="365" width="5" height="3" fill="#089981"/>
<rect x="93.0" y="366" width="3" height="1" fill="#ff0000"/>
<rect x="102.0" y="347" width="1" height="22" fill="#089981"/>
<rect x="100.0" y="350" width="5" height="16" fill="#089981"/>
<rect x="101.0" y="351" width="3" height="14" fill="#00e600"/>
<rect x="110.0" y="336" width="1" height="25" fill="#f23645"/>
<rect x="108.0" y="344" width="5" height="15" fill="#f23645"/>
<rect x="109.0" y="345" width="3" height="13" fill="#00e600"/>
<rect x="119.0" y="348" width="1" height="21" fill="#f23645"/>
<rect x="117.0" y="366" width="5" height="3" fill="#f23645"/>
<rect x="118.0" y="367" width="3" height="1" fill="#00e600"/>
<rect x="127.0" y="363" width="1" height="40" fill="#f23645"/>
<rect x="125.0" y="367" width="5" height="19" fill="#f23645"/>
<rect x="126.0" y="368" width="3" height="17" fill="#000000"/>
<rect x="135.0" y="389" width="1" height="13" fill="#f23645"/>
<rect x="133.0" y="391" width="5" height="5" fill="#f23645"/>
<rect x="134.0" y="392" width="3" height="3" fill="#ff0000"/>
<rect x="143.0" y="386" width="1" height="20" fill="#f23645"/>
<rect x="141.0" y="386" width="5" height="18" fill="#f23645"/>
<rect x="142.0" y="387" width="3" height="16" fill="#ff0000"/>
<rect x="151.0" y="390" width="1" height="16" fill="#089981"/>
<rect x="149.0" y="400" width="5" height="5" fill="#089981"/>
<rect x="150.0" y="401" width="3" height="3" fill="#ff0000"/>
<rect x="159.0" y="394" width="1" height="45" fill="#f23645"/>
<rect x="157.0" y="397" width="5" height="42" fill="#f23645"/>
<rect x="158.0" y="398" width="3" height="40" fill="#ff0000"/>
<rect x="167.0" y="412" width="1" height="38" fill="#089981"/>
<rect x="165.0" y="418" width="5" height="28" fill="#089981"/>
<rect x="166.0" y="419" width="3" height="26" fill="#ff0000"/>
<rect x="176.0" y="396" width="1" height="26" fill="#089981"/>
<rect x="174.0" y="403" width="5" height="19" fill="#089981"/>
<rect x="175.0" y="404" width="3" height="17" fill="#000000"/>
<rect x="184.0" y="414" width="1" height="29" fill="#f23645"/>
<rect x="182.0" y="417" width="5" height="25" fill="#f23645"/>
<rect x="183.0" y="418" width="3" height="23" fill="#000000"/>
<rect x="192.0" y="419" width="1" height="23" fill="#f23645"/>
<rect x="190.0" y="425" width="5" height="17" fill="#f23645"/>
<rect x="191.0" y="426" width="3" height="15" fill="#ff0000"/>
<rect x="200.0" y="444" width="1" height="30" fill="#089981"/>
<rect x="198.0" y="447" width="5" height="4" fill="#089981"/>
<rect x="199.0" y="448" width="3" height="2" fill="#ff0000"/>
<rect x="208.0" y="440" width="1" height="49" fill="#f23645"/>
<rect x="206.0" y="456" width="5" height="27" fill="#f23645"/>
<rect x="207.0" y="457" width="3" height="25" fill="#000000"/>
<rect x="216.0" y="479" width="1" height="60" fill="#f23645"/>
<rect x="214.0" y="494" width="5" height="32" fill="#f23645"/>
<rect x="215.0" y="495" width="3" height="30" fill="#ff0000"/>
<rect x="224.0" y="513" width="1" height="83" fill="#089981"/>
<rect x="222.0" y="575" width="5" height="8" fill="#089981"/>
<rect x="223.0" y="576" width="3" height="6" fill="#ff0000"/>
<rect x="233.0" y="532" width="1" height="40" fill="#089981"/>
<rect x="231.0" y="544" width="5" height="24" fill="#089981"/>
<rect x="232.0" y="545" width="3" height="22" fill="#ff0000"/>
<rect x="241.0" y="568" width="1" height="27" fill="#f23645"/>
<rect x="239.0" y="589" width="5" height="4" fill="#f23645"/>
<rect x="240.0" y="590" width="3" height="2" fill="#ff0000"/>
<rect x="249.0" y="514" width="1" height="63" fill="#f23645"/>
<rect x="247.0" y="536" width="5" height="41" fill="#f23645"/>
<rect x="248.0" y="537" width="3" height="39" fill="#000000"/>
<rect x="257.0" y="547" width="1" height="32" fill="#089981"/>
<rect x="255.0" y="551" width="5" height="17" fill="#089981"/>
<rect x="256.0" y="552" width="3" height="15" fill="#000000"/>
<rect x="265.0" y="519" width="1" height="17" fill="#f23645"/>
<rect x="263.0" y="519" width="5" height="9" fill="#f23645"/>
<rect x="264.0" y="520" width="3" height="7" fill="#00e600"/>
<rect x="273.0" y="515" width="1" height="16" fill="#089981"/>
<rect x="271.0" y="515" width="5" height="11" fill="#089981"/>
<rect x="272.0" y="516" width="3" height="9" fill="#00e600"/>
<rect x="281.0" y="502" width="1" height="44" fill="#f23645"/>
<rect x="279.0" y="515" width="5" height="3" fill="#f23645"/>
<rect x="280.0" y="516" width="3" height="1" fill="#00e600"/>
<rect x="289.0" y="523" width="1" height="31" fill="#f23645"/>
<rect x="287.0" y="524" width="5" height="13" fill="#f23645"/>
<rect x="288.0" y="525" width="3" height="11" fill="#000000"/>
<rect x="298.0" y="526" width="1" height="21" fill="#089981"/>
<rect x="296.0" y="526" width="5" height="6" fill="#089981"/>
<rect x="297.0" y="527" width="3" height="4" fill="#000000"/>
<rect x="306.0" y="483" width="1" height="39" fill="#089981"/>
<rect x="304.0" y="500" width="5" height="15" fill="#089981"/>
<rect x="305.0" y="501" width="3" height="13" fill="#000000"/>
<rect x="314.0" y="500" width="1" height="15" fill="#089981"/>
<rect x="312.0" y="507" width="5" height="1" fill="#089981"/>
<rect x="322.0" y="480" width="1" height="23" fill="#089981"/>
<rect x="320.0" y="493" width="5" height="3" fill="#089981"/>
<rect x="321.0" y="494" width="3" height="1" fill="#00e600"/>
<rect x="330.0" y="461" width="1" height="53" fill="#089981"/>
<rect x="328.0" y="478" width="5" height="31" fill="#089981"/>
<rect x="329.0" y="479" width="3" height="29" fill="#00e600"/>
<rect x="338.0" y="470" width="1" height="19" fill="#f23645"/>
<rect x="336.0" y="476" width="5" height="10" fill="#f23645"/>
<rect x="337.0" y="477" width="3" height="8" fill="#00e600"/>
<rect x="346.0" y="476" width="1" height="22" fill="#089981"/>
<rect x="344.0" y="486" width="5" height="3" fill="#089981"/>
<rect x="345.0" y="487" width="3" height="1" fill="#000000"/>
<rect x="355.0" y="453" width="1" height="28" fill="#089981"/>
<rect x="353.0" y="460" width="5" height="13" fill="#089981"/>
<rect x="354.0" y="461" width="3" height="11" fill="#000000"/>
<rect x="363.0" y="448" width="1" height="11" fill="#089981"/>
<rect x="361.0" y="449" width="5" height="8" fill="#089981"/>
<rect x="362.0" y="450" width="3" height="6" fill="#000000"/>
<rect x="371.0" y="443" width="1" height="25" fill="#f23645"/>
<rect x="369.0" y="446" width="5" height="22" fill="#f23645"/>
<rect x="370.0" y="447" width="3" height="20" fill="#000000"/>
<rect x="379.0" y="471" width="1" height="23" fill="#f23645"/>
<rect x="377.0" y="476" width="5" height="18" fill="#f23645"/>
<rect x="378.0" y="477" width="3" height="16" fill="#000000"/>
<rect x="387.0" y="484" width="1" height="20" fill="#089981"/>
<rect x="385.0" y="492" width="5" height="3" fill="#089981"/>
<rect x="386.0" y="493" width="3" height="1" fill="#000000"/>
<rect x="395.0" y="463" width="1" height="21" fill="#089981"/>
<rect x="393.0" y="473" width="5" height="11" fill="#089981"/>
<rect x="394.0" y="474" width="3" height="9" fill="#000000"/>
<rect x="403.0" y="447" width="1" height="40" fill="#089981"/>
<rect x="401.0" y="456" width="5" height="21" fill="#089981"/>
<rect x="402.0" y="457" width="3" height="19" fill="#ff0000"/>
<rect x="412.0" y="438" width="1" height="13" fill="#f23645"/>
<rect x="410.0" y="442" width="5" height="3" fill="#f23645"/>
<rect x="411.0" y="443" width="3" height="1" fill="#00e600"/>
<rect x="420.0" y="443" width="1" height="25" fill="#f23645"/>
<rect x="418.0" y="443" width="5" height="25" fill="#f23645"/>
<rect x="419.0" y="444" width="3" height="23" fill="#00e600"/>
<rect x="428.0" y="488" width="1" height="68" fill="#f23645"/>
<rect x="426.0" y="500" width="5" height="50" fill="#f23645"/>
<rect x="427.0" y="501" width="3" height="48" fill="#ff0000"/>
<rect x="436.0" y="532" width="1" height="37" fill="#f23645"/>
<rect x="434.0" y="540" width="5" height="18" fill="#f23645"/>
<rect x="435.0" y="541" width="3" height="16" fill="#ff0000"/>
<rect x="444.0" y="548" width="1" height="19" fill="#089981"/>
<rect x="442.0" y="553" width="5" height="2" fill="#089981"/>
<rect x="452.0" y="526" width="1" height="29" fill="#089981"/>
<rect x="450.0" y="532" width="5" height="21" fill="#089981"/>
<rect x="451.0" y="533" width="3" height="19" fill="#ff0000"/>
<rect x="460.0" y="526" width="1" height="12" fill="#089981"/>
<rect x="458.0" y="526" width="5" height="10" fill="#089981"/>
<rect x="459.0" y="527" width="3" height="8" fill="#ff0000"/>
<rect x="469.0" y="526" width="1" height="38" fill="#f23645"/>
<rect x="467.0" y="533" width="5" height="26" fill="#f23645"/>
<rect x="468.0" y="534" width="3" height="24" fill="#000000"/>
<rect x="477.0" y="546" width="1" height="27" fill="#f23645"/>
<rect x="475.0" y="558" width="5" height="3" fill="#f23645"/>
<rect x="476.0" y="559" width="3" height="1" fill="#00e600"/>
<rect x="485.0" y="538" width="1" height="13" fill="#f23645"/>
<rect x="483.0" y="544" width="5" height="3" fill="#f23645"/>
<rect x="484.0" y="545" width="3" height="1" fill="#00e600"/>
<rect x="493.0" y="533" width="1" height="15" fill="#089981"/>
<rect x="491.0" y="533" width="5" height="14" fill="#089981"/>
<rect x="492.0" y="534" width="3" height="12" fill="#00e600"/>
<rect x="501.0" y="527" width="1" height="23" fill="#f23645"/>
<rect x="499.0" y="534" width="5" height="16" fill="#f23645"/>
<rect x="500.0" y="535" width="3" height="14" fill="#ff0000"/>
<rect x="509.0" y="531" width="1" height="22" fill="#f23645"/>
<rect x="507.0" y="538" width="5" height="12" fill="#f23645"/>
<rect x="508.0" y="539" width="3" height="10" fill="#000000"/>
<rect x="517.0" y="536" width="1" height="21" fill="#089981"/>
<rect x="515.0" y="549" width="5" height="4" fill="#089981"/>
<rect x="516.0" y="550" width="3" height="2" fill="#00e600"/>
<rect x="526.0" y="547" width="1" height="15" fill="#f23645"/>
<rect x="524.0" y="553" width="5" height="2" fill="#f23645"/>
<rect x="534.0" y="547" width="1" height="16" fill="#089981"/>
<rect x="532.0" y="552" width="5" height="3" fill="#089981"/>
<rect x="533.0" y="553" width="3" height="1" fill="#ff0000"/>
<rect x="542.0" y="534" width="1" height="21" fill="#089981"/>
<rect x="540.0" y="540" width="5" height="10" fill="#089981"/>
<rect x="541.0" y="541" width="3" height="8" fill="#ff0000"/>
<rect x="550.0" y="534" width="1" height="21" fill="#f23645"/>
<rect x="548.0" y="537" width="5" height="12" fill="#f23645"/>
<rect x="549.0" y="538" width="3" height="10" fill="#00e600"/>
<rect x="558.0" y="547" width="1" height="9" fill="#089981"/>
<rect x="556.0" y="551" width="5" height="1" fill="#089981"/>
<rect x="566.0" y="537" width="1" height="19" fill="#089981"/>
<rect x="564.0" y="545" width="5" height="5" fill="#089981"/>
<rect x="565.0" y="546" width="3" height="3" fill="#00e600"/>
<rect x="574.0" y="537" width="1" height="16" fill="#089981"/>
<rect x="572.0" y="540" width="5" height="3" fill="#089981"/>
<rect x="573.0" y="541" width="3" height="1" fill="#00e600"/>
<rect x="582.0" y="535" width="1" height="18" fill="#f23645"/>
<rect x="580.0" y="538" width="5" height="5" fill="#f23645"/>
<rect x="581.0" y="539" width="3" height="3" fill="#00e600"/>
<rect x="591.0" y="538" width="1" height="15" fill="#089981"/>
<rect x="589.0" y="540" width="5" height="13" fill="#089981"/>
<rect x="590.0" y="541" width="3" height="11" fill="#000000"/>
<rect x="599.0" y="545" width="1" height="16" fill="#089981"/>
<rect x="597.0" y="555" width="5" height="3" fill="#089981"/>
<rect x="598.0" y="556" width="3" height="1" fill="#000000"/>
<rect x="607.0" y="551" width="1" height="20" fill="#089981"/>
<rect x="605.0" y="556" width="5" height="2" fill="#089981"/>
<rect x="615.0" y="555" width="1" height="27" fill="#f23645"/>
<rect x="613.0" y="563" width="5" height="19" fill="#f23645"/>
<rect x="614.0" y="564" width="3" height="17" fill="#ff0000"/>
<rect x="623.0" y="586" width="1" height="22" fill="#f23645"/>
<rect x="621.0" y="588" width="5" height="16" fill="#f23645"/>
<rect x="622.0" y="589" width="3" height="14" fill="#ff0000"/>
<rect x="631.0" y="595" width="1" height="24" fill="#089981"/>
<rect x="629.0" y="611" width="5" height="6" fill="#089981"/>
<rect x="630.0" y="612" width="3" height="4" fill="#ff0000"/>
<rect x="639.0" y="589" width="1" height="19" fill="#089981"/>
<rect x="637.0" y="599" width="5" height="7" fill="#089981"/>
<rect x="638.0" y="600" width="3" height="5" fill="#ff0000"/>
<rect x="648.0" y="592" width="1" height="16" fill="#f23645"/>
<rect x="646.0" y="607" width="5" height="1" fill="#f23645"/>
<rect x="656.0" y="577" width="1" height="9" fill="#089981"/>
<rect x="654.0" y="584" width="5" height="1" fill="#089981"/>
<rect x="664.0" y="579" width="1" height="18" fill="#f23645"/>
<rect x="662.0" y="581" width="5" height="16" fill="#f23645"/>
<rect x="663.0" y="582" width="3" height="14" fill="#00e600"/>
<rect x="672.0" y="573" width="1" height="15" fill="#089981"/>
<rect x="670.0" y="585" width="5" height="3" fill="#089981"/>
<rect x="671.0" y="586" width="3" height="1" fill="#00e600"/>
<rect x="680.0" y="563" width="1" height="20" fill="#089981"/>
<rect x="678.0" y="575" width="5" height="1" fill="#089981"/>
<rect x="688.0" y="574" width="1" height="28" fill="#f23645"/>
<rect x="686.0" y="576" width="5" height="25" fill="#f23645"/>
<rect x="687.0" y="577" width="3" height="23" fill="#00e600"/>
<rect x="696.0" y="578" width="1" height="32" fill="#089981"/>
<rect x="694.0" y="579" width="5" height="25" fill="#089981"/>
<rect x="695.0" y="580" width="3" height="23" fill="#000000"/>
<rect x="705.0" y="570" width="1" height="17" fill="#f23645"/>
<rect x="703.0" y="570" width="5" height="5" fill="#f23645"/>
<rect x="704.0" y="571" width="3" height="3" fill="#000000"/>
<rect x="713.0" y="566" width="1" height="31" fill="#f23645"/>
<rect x="711.0" y="568" width="5" height="26" fill="#f23645"/>
<rect x="712.0" y="569" width="3" height="24" fill="#000000"/>
<rect x="721.0" y="584" width="1" height="17" fill="#089981"/>
<rect x="719.0" y="590" width="5" height="11" fill="#089981"/>
<rect x="720.0" y="591" width="3" height="9" fill="#ff0000"/>
<rect x="729.0" y="601" width="1" height="14" fill="#089981"/>
<rect x="727.0" y="607" width="5" height="3" fill="#089981"/>
<rect x="728.0" y="608" width="3" height="1" fill="#ff0000"/>
<rect x="737.0" y="577" width="1" height="33" fill="#089981"/>
<rect x="735.0" y="586" width="5" height="21" fill="#089981"/>
<rect x="736.0" y="587" width="3" height="19" fill="#00e600"/>
<rect x="745.0" y="577" width="1" height="24" fill="#f23645"/>
<rect x="743.0" y="587" width="5" height="2" fill="#f23645"/>
<rect x="753.0" y="557" width="1" height="22" fill="#089981"/>
<rect x="751.0" y="558" width="5" height="19" fill="#089981"/>
<rect x="752.0" y="559" width="3" height="17" fill="#00e600"/>
<rect x="762.0" y="556" width="1" height="20" fill="#f23645"/>
<rect x="760.0" y="556" width="5" height="18" fill="#f23645"/>
<rect x="761.0" y="557" width="3" height="16" fill="#00e600"/>
<rect x="770.0" y="569" width="1" height="40" fill="#f23645"/>
<rect x="768.0" y="584" width="5" height="18" fill="#f23645"/>
<rect x="769.0" y="585" width="3" height="16" fill="#00e600"/>
<rect x="778.0" y="585" width="1" height="21" fill="#f23645"/>
<rect x="776.0" y="598" width="5" height="3" fill="#f23645"/>
<rect x="777.0" y="599" width="3" height="1" fill="#000000"/>
<rect x="786.0" y="586" width="1" height="20" fill="#089981"/>
<rect x="784.0" y="597" width="5" height="9" fill="#089981"/>
<rect x="785.0" y="598" width="3" height="7" fill="#000000"/>
<rect x="794.0" y="583" width="1" height="11" fill="#089981"/>
<rect x="792.0" y="586" width="5" height="3" fill="#089981"/>
<rect x="793.0" y="587" width="3" height="1" fill="#ff0000"/>
<rect x="802.0" y="579" width="1" height="16" fill="#f23645"/>
<rect x="800.0" y="582" width="5" height="13" fill="#f23645"/>
<rect x="801.0" y="583" width="3" height="11" fill="#ff0000"/>
<rect x="810.0" y="586" width="1" height="22" fill="#f23645"/>
<rect x="808.0" y="597" width="5" height="6" fill="#f23645"/>
<rect x="809.0" y="598" width="3" height="4" fill="#000000"/>
<rect x="819.0" y="603" width="1" height="65" fill="#f23645"/>
<rect x="817.0" y="603" width="5" height="9" fill="#f23645"/>
<rect x="818.0" y="604" width="3" height="7" fill="#ff0000"/>
<rect x="827.0" y="579" width="1" height="25" fill="#089981"/>
<rect x="825.0" y="579" width="5" height="11" fill="#089981"/>
<rect x="826.0" y="580" width="3" height="9" fill="#00e600"/>
<rect x="835.0" y="559" width="1" height="19" fill="#089981"/>
<rect x="833.0" y="568" width="5" height="3" fill="#089981"/>
<rect x="834.0" y="569" width="3" height="1" fill="#00e600"/>
<rect x="843.0" y="571" width="1" height="23" fill="#089981"/>
<rect x="841.0" y="576" width="5" height="6" fill="#089981"/>
<rect x="842.0" y="577" width="3" height="4" fill="#00e600"/>
<rect x="851.0" y="540" width="1" height="33" fill="#f23645"/>
<rect x="849.0" y="543" width="5" height="28" fill="#f23645"/>
<rect x="850.0" y="544" width="3" height="26" fill="#00e600"/>
<rect x="859.0" y="554" width="1" height="19" fill="#f23645"/>
<rect x="857.0" y="570" width="5" height="3" fill="#f23645"/>
<rect x="858.0" y="571" width="3" height="1" fill="#00e600"/>
<rect x="867.0" y="572" width="1" height="16" fill="#f23645"/>
<rect x="865.0" y="575" width="5" height="13" fill="#f23645"/>
<rect x="866.0" y="576" width="3" height="11" fill="#000000"/>
<rect x="876.0" y="582" width="1" height="18" fill="#f23645"/>
<rect x="874.0" y="589" width="5" height="10" fill="#f23645"/>
<rect x="875.0" y="590" width="3" height="8" fill="#ff0000"/>
<rect x="884.0" y="610" width="1" height="22" fill="#f23645"/>
<rect x="882.0" y="623" width="5" height="5" fill="#f23645"/>
<rect x="883.0" y="624" width="3" height="3" fill="#ff0000"/>
<rect x="892.0" y="617" width="1" height="17" fill="#089981"/>
<rect x="890.0" y="618" width="5" height="9" fill="#089981"/>
<rect x="891.0" y="619" width="3" height="7" fill="#ff0000"/>
<rect x="900.0" y="608" width="1" height="16" fill="#f23645"/>
<rect x="898.0" y="614" width="5" height="7" fill="#f23645"/>
<rect x="899.0" y="615" width="3" height="5" fill="#ff0000"/>
<rect x="908.0" y="616" width="1" height="31" fill="#f23645"/>
<rect x="906.0" y="620" width="5" height="25" fill="#f23645"/>
<rect x="907.0" y="621" width="3" height="23" fill="#ff0000"/>
<rect x="916.0" y="643" width="1" height="47" fill="#f23645"/>
<rect x="914.0" y="651" width="5" height="3" fill="#f23645"/>
<rect x="915.0" y="652" width="3" height="1" fill="#ff0000"/>
<rect x="924.0" y="611" width="1" height="35" fill="#089981"/>
<rect x="922.0" y="620" width="5" height="26" fill="#089981"/>
<rect x="923.0" y="621" width="3" height="24" fill="#000000"/>
<rect x="932.0" y="601" width="1" height="19" fill="#f23645"/>
<rect x="930.0" y="611" width="5" height="9" fill="#f23645"/>
<rect x="931.0" y="612" width="3" height="7" fill="#00e600"/>
<rect x="941.0" y="586" width="1" height="32" fill="#089981"/>
<rect x="939.0" y="592" width="5" height="23" fill="#089981"/>
<rect x="940.0" y="593" width="3" height="21" fill="#00e600"/>
<rect x="949.0" y="582" width="1" height="21" fill="#f23645"/>
<rect x="947.0" y="583" width="5" height="8" fill="#f23645"/>
<rect x="948.0" y="584" width="3" height="6" fill="#00e600"/>
<rect x="957.0" y="585" width="1" height="8" fill="#f23645"/>
<rect x="955.0" y="588" width="5" height="4" fill="#f23645"/>
<rect x="956.0" y="589" width="3" height="2" fill="#00e600"/>
<rect x="965.0" y="576" width="1" height="11" fill="#089981"/>
<rect x="963.0" y="581" width="5" height="2" fill="#089981"/>
<rect x="973.0" y="578" width="1" height="30" fill="#f23645"/>
<rect x="971.0" y="578" width="5" height="16" fill="#f23645"/>
<rect x="972.0" y="579" width="3" height="14" fill="#000000"/>
<rect x="981.0" y="590" width="1" height="17" fill="#089981"/>
<rect x="979.0" y="593" width="5" height="14" fill="#089981"/>
<rect x="980.0" y="594" width="3" height="12" fill="#000000"/>
<rect x="989.0" y="578" width="1" height="16" fill="#089981"/>
<rect x="987.0" y="586" width="5" height="5" fill="#089981"/>
<rect x="988.0" y="587" width="3" height="3" fill="#000000"/>
<rect x="998.0" y="584" width="1" height="14" fill="#f23645"/>
<rect x="996.0" y="586" width="5" height="10" fill="#f23645"/>
<rect x="997.0" y="587" width="3" height="8" fill="#ff0000"/>
<rect x="1006.0" y="572" width="1" height="26" fill="#089981"/>
<rect x="1004.0" y="581" width="5" height="14" fill="#089981"/>
<rect x="1005.0" y="582" width="3" height="12" fill="#ff0000"/>
<rect x="1014.0" y="578" width="1" height="24" fill="#f23645"/>
<rect x="1012.0" y="580" width="5" height="22" fill="#f23645"/>
<rect x="1013.0" y="581" width="3" height="20" fill="#00e600"/>
<rect x="1022.0" y="598" width="1" height="24" fill="#f23645"/>
<rect x="1020.0" y="610" width="5" height="12" fill="#f23645"/>
<rect x="1021.0" y="611" width="3" height="10" fill="#ff0000"/>
<rect x="1030.0" y="611" width="1" height="13" fill="#f23645"/>
<rect x="1028.0" y="618" width="5" height="2" fill="#f23645"/>
<rect x="1038.0" y="608" width="1" height="16" fill="#f23645"/>
<rect x="1036.0" y="618" width="5" height="6" fill="#f23645"/>
<rect x="1037.0" y="619" width="3" height="4" fill="#ff0000"/>
<rect x="1046.0" y="609" width="1" height="21" fill="#089981"/>
<rect x="1044.0" y="618" width="5" height="12" fill="#089981"/>
<rect x="1045.0" y="619" width="3" height="10" fill="#ff0000"/>
<rect x="1055.0" y="602" width="1" height="12" fill="#f23645"/>
<rect x="1053.0" y="610" width="5" height="3" fill="#f23645"/>
<rect x="1054.0" y="611" width="3" height="1" fill="#000000"/>
<rect x="1063.0" y="612" width="1" height="14" fill="#f23645"/>
<rect x="1061.0" y="617" width="5" height="3" fill="#f23645"/>
<rect x="1062.0" y="618" width="3" height="1" fill="#000000"/>
<rect x="1071.0" y="600" width="1" height="10" fill="#089981"/>
<rect x="1069.0" y="606" width="5" height="4" fill="#089981"/>
<rect x="1070.0" y="607" width="3" height="2" fill="#00e600"/>
<rect x="1079.0" y="596" width="1" height="26" fill="#f23645"/>
<rect x="1077.0" y="604" width="5" height="11" fill="#f23645"/>
<rect x="1078.0" y="605" width="3" height="9" fill="#00e600"/>
<rect x="1087.0" y="600" width="1" height="13" fill="#089981"/>
<rect x="1085.0" y="606" width="5" height="3" fill="#089981"/>
<rect x="1086.0" y="607" width="3" height="1" fill="#00e600"/>
<rect x="1095.0" y="591" width="1" height="17" fill="#089981"/>
<rect x="1093.0" y="593" width="5" height="8" fill="#089981"/>
<rect x="1094.0" y="594" width="3" height="6" fill="#000000"/>
<rect x="1103.0" y="589" width="1" height="19" fill="#f23645"/>
<rect x="1101.0" y="591" width="5" height="16" fill="#f23645"/>
<rect x="1102.0" y="592" width="3" height="14" fill="#00e600"/>
<rect x="1112.0" y="602" width="1" height="18" fill="#f23645"/>
<rect x="1110.0" y="611" width="5" height="3" fill="#f23645"/>
<rect x="1111.0" y="612" width="3" height="1" fill="#000000"/>
<rect x="1120.0" y="608" width="1" height="14" fill="#f23645"/>
<rect x="1118.0" y="616" width="5" height="6" fill="#f23645"/>
<rect x="1119.0" y="617" width="3" height="4" fill="#ff0000"/>
<rect x="1128.0" y="619" width="1" height="17" fill="#f23645"/>
<rect x="1126.0" y="619" width="5" height="13" fill="#f23645"/>
<rect x="1127.0" y="620" width="3" height="11" fill="#ff0000"/>
<rect x="1136.0" y="621" width="1" height="14" fill="#f23645"/>
<rect x="1134.0" y="630" width="5" height="4" fill="#f23645"/>
<rect x="1135.0" y="631" width="3" height="2" fill="#ff0000"/>
<rect x="1144.0" y="618" width="1" height="18" fill="#f23645"/>
<rect x="1142.0" y="632" width="5" height="4" fill="#f23645"/>
<rect x="1143.0" y="633" width="3" height="2" fill="#ff0000"/>
<rect x="1152.0" y="617" width="1" height="19" fill="#089981"/>
<rect x="1150.0" y="624" width="5" height="11" fill="#089981"/>
<rect x="1151.0" y="625" width="3" height="9" fill="#000000"/>
<rect x="1160.0" y="602" width="1" height="28" fill="#f23645"/>
<rect x="1158.0" y="623" width="5" height="3" fill="#f23645"/>
<rect x="1159.0" y="624" width="3" height="1" fill="#00e600"/>
<rect x="1169.0" y="616" width="1" height="20" fill="#089981"/>
<rect x="1167.0" y="618" width="5" height="3" fill="#089981"/>
<rect x="1168.0" y="619" width="3" height="1" fill="#00e600"/>
<rect x="1177.0" y="604" width="1" height="22" fill="#089981"/>
<rect x="1175.0" y="609" width="5" height="12" fill="#089981"/>
<rect x="1176.0" y="610" width="3" height="10" fill="#00e600"/>
<rect x="1185.0" y="590" width="1" height="24" fill="#089981"/>
<rect x="1183.0" y="590" width="5" height="20" fill="#089981"/>
<rect x="1184.0" y="591" width="3" height="18" fill="#00e600"/>
<rect x="1193.0" y="593" width="1" height="27" fill="#f23645"/>
<rect x="1191.0" y="593" width="5" height="26" fill="#f23645"/>
<rect x="1192.0" y="594" width="3" height="24" fill="#00e600"/>
<rect x="1201.0" y="618" width="1" height="29" fill="#f23645"/>
<rect x="1199.0" y="623" width="5" height="14" fill="#f23645"/>
<rect x="1200.0" y="624" width="3" height="12" fill="#ff0000"/>
<rect x="1209.0" y="629" width="1" height="19" fill="#089981"/>
<rect x="1207.0" y="635" width="5" height="9" fill="#089981"/>
<rect x="1208.0" y="636" width="3" height="7" fill="#ff0000"/>
<rect x="1217.0" y="619" width="1" height="17" fill="#089981"/>
<rect x="1215.0" y="628" width="5" height="4" fill="#089981"/>
<rect x="1216.0" y="629" width="3" height="2" fill="#ff0000"/>
<rect x="1225.0" y="606" width="1" height="28" fill="#089981"/>
<rect x="1223.0" y="606" width="5" height="26" fill="#089981"/>
<rect x="1224.0" y="607" width="3" height="24" fill="#ff0000"/>
<rect x="1234.0" y="549" width="1" height="39" fill="#089981"/>
<rect x="1232.0" y="552" width="5" height="36" fill="#089981"/>
<rect x="1233.0" y="553" width="3" height="34" fill="#00e600"/>
<circle cx="53.5" cy="267.0" r="4.3" fill="#00e5ff"/>
<circle cx="53.5" cy="271.4" r="4.3" fill="#3cb371"/>
<circle cx="53.5" cy="281.5" r="6.3" fill="#ff0000"/>
<circle cx="127.5" cy="342.5" r="4.3" fill="#ffff00"/>
<circle cx="216.5" cy="560.4" r="3.5" fill="#8c8c8c"/>
<circle cx="241.5" cy="611.6" r="6.4" fill="#8c8c8c"/>
<circle cx="257.5" cy="599.4" r="4.4" fill="#0000ff"/>
<circle cx="314.5" cy="477.2" r="4.3" fill="#00e5ff"/>
<circle cx="379.5" cy="448.7" r="4.3" fill="#00e5ff"/>
<circle cx="428.5" cy="465.5" r="4.3" fill="#00e5ff"/>
<circle cx="371.5" cy="490.4" r="4.3" fill="#ffff00"/>
<circle cx="485.5" cy="516.7" r="4.3" fill="#ffff00"/>
<circle cx="623.5" cy="628.4" r="3.5" fill="#8c8c8c"/>
<circle cx="648.5" cy="621.4" r="6.4" fill="#8c8c8c"/>
<circle cx="688.5" cy="554.5" r="4.3" fill="#00e5ff"/>
<circle cx="762.5" cy="535.3" r="6.3" fill="#00ff00"/>
<circle cx="713.5" cy="547.4" r="4.3" fill="#00e5ff"/>
<circle cx="770.5" cy="549.8" r="4.3" fill="#00e5ff"/>
<circle cx="835.5" cy="539.5" r="4.3" fill="#ffff00"/>
<circle cx="810.5" cy="628.6" r="4.3" fill="#ffff00"/>
<circle cx="843.5" cy="628.6" r="4.3" fill="#00e5ff"/>
<circle cx="884.5" cy="591.3" r="4.3" fill="#00e5ff"/>
<circle cx="924.5" cy="592.6" r="4.3" fill="#ffff00"/>
<circle cx="941.5" cy="652.5" r="4.3" fill="#00e5ff"/>
<circle cx="924.5" cy="660.4" r="6.3" fill="#8c8c8c"/>
<circle cx="924.5" cy="660.4" r="3.4" fill="#a52a2a"/>
<circle cx="1022.5" cy="579.5" r="4.3" fill="#00e5ff"/>
<circle cx="989.5" cy="613.6" r="4.3" fill="#ffff00"/>
<circle cx="1063.5" cy="594.3" r="4.3" fill="#00e5ff"/>
<circle cx="1030.5" cy="630.4" r="6.3" fill="#ff0000"/>
<circle cx="1046.5" cy="636.5" r="6.3" fill="#ff0000"/>
<circle cx="1046.5" cy="640.6" r="6.3" fill="#ff9d3e"/>
<circle cx="1071.5" cy="642.5" r="4.3" fill="#00e5ff"/>
<circle cx="1087.5" cy="644.2" r="4.3" fill="#00e5ff"/>
<circle cx="1103.5" cy="582.6" r="6.3" fill="#ff0000"/>
<circle cx="1120.5" cy="589.3" r="4.3" fill="#00e5ff"/>
<circle cx="1128.5" cy="601.5" r="4.3" fill="#ffff00"/>
<circle cx="1193.5" cy="575.5" r="4.3" fill="#00e5ff"/>
<circle cx="1152.5" cy="643.2" r="6.3" fill="#ff0000"/>
<circle cx="1152.5" cy="647.2" r="6.3" fill="#ff9d3e"/>
<circle cx="1152.5" cy="643.2" r="3.3" fill="#ffffff"/>
<circle cx="1177.5" cy="656.3" r="4.3" fill="#00e5ff"/>
<circle cx="1225.5" cy="666.5" r="4.3" fill="#00e5ff"/>
<circle cx="53.5" cy="281.5" r="1.5" fill="#8c8c8c"/>
<circle cx="21.5" cy="309.5" r="1.5" fill="#8c8c8c"/>
<circle cx="13.5" cy="377.5" r="1.5" fill="#8c8c8c"/>
<circle cx="110.5" cy="329.3" r="1.5" fill="#8c8c8c"/>
<circle cx="167.5" cy="457.4" r="1.5" fill="#8c8c8c"/>
<circle cx="281.5" cy="492.4" r="1.5" fill="#8c8c8c"/>
<circle cx="249.5" cy="506.6" r="1.5" fill="#8c8c8c"/>
<circle cx="330.5" cy="453.4" r="1.5" fill="#8c8c8c"/>
<circle cx="387.5" cy="513.6" r="1.5" fill="#8c8c8c"/>
<circle cx="412.5" cy="430.5" r="1.5" fill="#8c8c8c"/>
<circle cx="224.5" cy="604.6" r="1.5" fill="#8c8c8c"/>
<circle cx="289.5" cy="562.5" r="1.5" fill="#8c8c8c"/>
<circle cx="436.5" cy="577.6" r="1.5" fill="#8c8c8c"/>
<circle cx="452.5" cy="518.6" r="1.5" fill="#8c8c8c"/>
<circle cx="501.5" cy="519.6" r="1.5" fill="#8c8c8c"/>
<circle cx="477.5" cy="581.4" r="1.5" fill="#8c8c8c"/>
<circle cx="534.5" cy="570.5" r="1.5" fill="#8c8c8c"/>
<circle cx="582.5" cy="528.4" r="1.5" fill="#8c8c8c"/>
<circle cx="680.5" cy="556.7" r="1.5" fill="#8c8c8c"/>
<circle cx="631.5" cy="626.5" r="1.5" fill="#8c8c8c"/>
<circle cx="696.5" cy="617.5" r="1.5" fill="#8c8c8c"/>
<circle cx="713.5" cy="559.5" r="1.5" fill="#8c8c8c"/>
<circle cx="762.5" cy="548.5" r="1.5" fill="#8c8c8c"/>
<circle cx="802.5" cy="572.4" r="1.5" fill="#8c8c8c"/>
<circle cx="851.5" cy="533.4" r="1.5" fill="#8c8c8c"/>
<circle cx="729.5" cy="622.5" r="1.5" fill="#8c8c8c"/>
<circle cx="770.5" cy="616.5" r="1.5" fill="#8c8c8c"/>
<circle cx="900.5" cy="602.6" r="1.5" fill="#8c8c8c"/>
<circle cx="819.5" cy="675.5" r="1.5" fill="#8c8c8c"/>
<circle cx="916.5" cy="697.4" r="1.5" fill="#8c8c8c"/>
<circle cx="1152.5" cy="643.2" r="1.5" fill="#8c8c8c"/>
<circle cx="965.5" cy="569.5" r="1.5" fill="#8c8c8c"/>
<circle cx="1006.5" cy="565.5" r="1.5" fill="#8c8c8c"/>
<circle cx="981.5" cy="615.6" r="1.5" fill="#8c8c8c"/>
<circle cx="1046.5" cy="636.7" r="1.5" fill="#8c8c8c"/>
<circle cx="1103.5" cy="582.6" r="1.5" fill="#8c8c8c"/>
<circle cx="1160.5" cy="596.5" r="1.5" fill="#8c8c8c"/>
<circle cx="1185.5" cy="584.6" r="1.5" fill="#8c8c8c"/>
<circle cx="78.5" cy="400.4" r="4.7" fill="#ffffff" stroke="#ff0000" stroke-width="3.1"/>
<circle cx="78.5" cy="400.4" r="1.5" fill="#8c8c8c"/>
<circle cx="167.5" cy="470.5" r="4.7" fill="#ffffff" stroke="#00ff00" stroke-width="3.1"/>
<circle cx="371.5" cy="437.6" r="4.7" fill="#ffffff" stroke="#ff0000" stroke-width="3.1"/>
<circle cx="371.5" cy="437.6" r="1.5" fill="#8c8c8c"/>
<circle cx="892.5" cy="653.4" r="4.7" fill="#ffffff" stroke="#00ff00" stroke-width="3.1"/>
<circle cx="1209.5" cy="654.6" r="4.7" fill="#ffffff" stroke="#ff0000" stroke-width="3.1"/>
<circle cx="1209.5" cy="654.6" r="1.5" fill="#8c8c8c"/>
<path d="M326.1 525.4H334.9M330.5 521.0V529.8" stroke="#3cb371" stroke-width="3"/>
<path d="M766.1 550.5H774.9M770.5 546.1V554.9" stroke="#ff0000" stroke-width="3"/>
<rect x="25.5" y="221.5" width="56" height="19" rx="2.5" fill="#ff0000"/>
<path d="M47.9 240.2L53.5 246.3L59.1 240.2Z" fill="#ff0000"/>
<text x="53.5" y="233.5" font-size="10" fill="#ffffff" text-anchor="middle" textLength="43" lengthAdjust="spacingAndGlyphs" font-family='"Liberation Sans", sans-serif'>Red Devil</text>
<rect x="52.5" y="442.0" width="51" height="19" rx="2.5" fill="#ff0000"/>
<path d="M72.4 442.3L78.0 436.2L83.6 442.3Z" fill="#ff0000"/>
<text x="78.0" y="454.0" font-size="10" fill="#ffffff" text-anchor="middle" textLength="37" lengthAdjust="spacingAndGlyphs" font-family='"Liberation Sans", sans-serif'>LolliPop</text>
<rect x="346.0" y="375.0" width="51" height="19" rx="2.5" fill="#ff0000"/>
<path d="M365.9 393.7L371.5 399.8L377.1 393.7Z" fill="#ff0000"/>
<text x="371.5" y="387.0" font-size="10" fill="#ffffff" text-anchor="middle" textLength="37" lengthAdjust="spacingAndGlyphs" font-family='"Liberation Sans", sans-serif'>LolliPop</text>
<rect x="895.1" y="707.2" width="58.8" height="19.5" rx="2.5" fill="#a05a00"/>
<path d="M918.9 707.5L924.5 701.4L930.1 707.5Z" fill="#a05a00"/>
<text x="924.5" y="719.5" font-size="10" fill="#ffffff" text-anchor="middle" textLength="44" lengthAdjust="spacingAndGlyphs" font-family='"Liberation Sans", sans-serif'>BB Kombi</text>
<rect x="1075.1" y="528.1" width="56.8" height="19.8" rx="2.5" fill="#ff0000"/>
<path d="M1097.9 547.6L1103.5 553.7L1109.1 547.6Z" fill="#ff0000"/>
<text x="1103.5" y="540.5" font-size="10" fill="#ffffff" text-anchor="middle" textLength="43" lengthAdjust="spacingAndGlyphs" font-family='"Liberation Sans", sans-serif'>Red Devil</text>
<rect x="1002.1" y="667.1" width="56.8" height="19.0" rx="2.5" fill="#ff0000"/>
<path d="M1024.9 667.4L1030.5 661.3L1036.1 667.4Z" fill="#ff0000"/>
<text x="1008.7" y="679.1" font-size="10" fill="#ffffff" text-anchor="start" textLength="9.3" lengthAdjust="spacingAndGlyphs" font-family='"Liberation Sans", sans-serif'>Re</text>
<rect x="1018.0" y="672.1" width="56.9" height="19.7" rx="2.5" fill="#ff0000"/>
<path d="M1040.9 672.4L1046.5 666.3L1052.1 672.4Z" fill="#ff0000"/>
<text x="1046.5" y="684.5" font-size="10" fill="#ffffff" text-anchor="middle" textLength="43" lengthAdjust="spacingAndGlyphs" font-family='"Liberation Sans", sans-serif'>Red Devil</text>
<rect x="1014.1" y="700.1" width="64.6" height="18.6" rx="2.5" fill="#ff9d45"/>
<path d="M1040.8 700.4L1046.4 694.3L1052.0 700.4Z" fill="#ff9d45"/>
<text x="1046.4" y="711.9" font-size="10" fill="#ffffff" text-anchor="middle" textLength="49" lengthAdjust="spacingAndGlyphs" font-family='"Liberation Sans", sans-serif'>AW Rocket</text>
<rect x="1127.0" y="676.8" width="50.8" height="19.9" rx="2.5" fill="#ff0000"/>
<path d="M1146.8 677.1L1152.4 671.0L1158.0 677.1Z" fill="#ff0000"/>
<text x="1152.4" y="689.2" font-size="10" fill="#ffffff" text-anchor="middle" textLength="37" lengthAdjust="spacingAndGlyphs" font-family='"Liberation Sans", sans-serif'>LolliPop</text>
<rect x="1120.0" y="702.9" width="64.9" height="19.0" rx="2.5" fill="#ff9d45"/>
<path d="M1146.8 703.2L1152.4 697.1L1158.0 703.2Z" fill="#ff9d45"/>
<text x="1152.4" y="714.9" font-size="10" fill="#ffffff" text-anchor="middle" textLength="49" lengthAdjust="spacingAndGlyphs" font-family='"Liberation Sans", sans-serif'>AW Rocket</text>
<rect x="1184.0" y="688.9" width="50.9" height="18.8" rx="2.5" fill="#ff0000"/>
<path d="M1203.9 689.2L1209.5 683.1L1215.1 689.2Z" fill="#ff0000"/>
<text x="1209.5" y="700.8" font-size="10" fill="#ffffff" text-anchor="middle" textLength="37" lengthAdjust="spacingAndGlyphs" font-family='"Liberation Sans", sans-serif'>LolliPop</text>
<path d="M36.8 802.4Q36.8 800.8 38.4 800.8H52.8Q54.4 800.8 54.4 802.4V814L45.6 819.2L36.8 814Z" fill="#ffffff" stroke="#f23645" stroke-width="1.7" stroke-linejoin="round"/><text x="45.6" y="813.4" font-size="11.5" font-weight="bold" fill="#f23645" text-anchor="middle" font-family='"Liberation Sans", sans-serif'>E</text>
<path d="M403.7 802.4Q403.7 800.8 405.3 800.8H419.7Q421.3 800.8 421.3 802.4V814L412.5 819.2L403.7 814Z" fill="#ffffff" stroke="#f23645" stroke-width="1.7" stroke-linejoin="round"/><text x="412.5" y="813.4" font-size="11.5" font-weight="bold" fill="#f23645" text-anchor="middle" font-family='"Liberation Sans", sans-serif'>E</text>
<path d="M907.6 802.4Q907.6 800.8 909.2 800.8H923.6Q925.2 800.8 925.2 802.4V814L916.4 819.2L907.6 814Z" fill="#ffffff" stroke="#f23645" stroke-width="1.7" stroke-linejoin="round"/><text x="916.4" y="813.4" font-size="11.5" font-weight="bold" fill="#f23645" text-anchor="middle" font-family='"Liberation Sans", sans-serif'>E</text>
<circle cx="330.3" cy="809.4" r="9.55" fill="#ffffff" stroke="#2962ff" stroke-width="1.7"/><text x="330.4" y="813.6" font-size="11.5" font-weight="bold" fill="#2962ff" text-anchor="middle" font-family='"Liberation Sans", sans-serif'>D</text>
<circle cx="1234.6" cy="809.5" r="11.6" fill="#ffffff"/><circle cx="1234.6" cy="809.5" r="9.7" fill="#ffffff" stroke="#9c27b0" stroke-width="1.6"/><path d="M1238.0 804.1L1230.1 809.5L1234.1 809.7L1231.2 815.0L1239.1 809.3L1235.4 809.2Z" fill="#9c27b0"/>
<rect x="1477.6" y="800.8" width="17.8" height="17.4" rx="1.8" fill="#ffffff" stroke="#e040fb" stroke-width="1.6"/><text x="1486.5" y="813.4" font-size="11.5" font-weight="bold" fill="#e040fb" text-anchor="middle" font-family='"Liberation Sans", sans-serif'>E</text>
</g>
<g id="lower">
<g fill="#000000"><circle cx="13.5" cy="873.2" r="3.5"/><circle cx="21.5" cy="873.2" r="3.5"/><circle cx="29.5" cy="873.2" r="3.5"/><circle cx="37.5" cy="873.2" r="3.5"/><circle cx="53.5" cy="873.2" r="3.5"/><circle cx="102.5" cy="873.2" r="3.5"/><circle cx="110.5" cy="873.2" r="3.5"/><circle cx="119.5" cy="873.2" r="3.5"/><circle cx="273.5" cy="873.2" r="3.5"/><circle cx="281.5" cy="873.2" r="3.5"/><circle cx="289.5" cy="873.2" r="3.5"/><circle cx="298.5" cy="873.2" r="3.5"/><circle cx="306.5" cy="873.2" r="3.5"/><circle cx="314.5" cy="873.2" r="3.5"/><circle cx="322.5" cy="873.2" r="3.5"/><circle cx="330.5" cy="873.2" r="3.5"/><circle cx="338.5" cy="873.2" r="3.5"/><circle cx="346.5" cy="873.2" r="3.5"/><circle cx="379.5" cy="873.2" r="3.5"/><circle cx="387.5" cy="873.2" r="3.5"/><circle cx="493.5" cy="873.2" r="3.5"/><circle cx="501.5" cy="873.2" r="3.5"/><circle cx="509.5" cy="873.2" r="3.5"/><circle cx="517.5" cy="873.2" r="3.5"/><circle cx="534.5" cy="873.2" r="3.5"/><circle cx="542.5" cy="873.2" r="3.5"/><circle cx="550.5" cy="873.2" r="3.5"/><circle cx="558.5" cy="873.2" r="3.5"/><circle cx="566.5" cy="873.2" r="3.5"/><circle cx="574.5" cy="873.2" r="3.5"/><circle cx="582.5" cy="873.2" r="3.5"/><circle cx="591.5" cy="873.2" r="3.5"/><circle cx="672.5" cy="873.2" r="3.5"/><circle cx="680.5" cy="873.2" r="3.5"/><circle cx="696.5" cy="873.2" r="3.5"/><circle cx="705.5" cy="873.2" r="3.5"/><circle cx="713.5" cy="873.2" r="3.5"/><circle cx="721.5" cy="873.2" r="3.5"/><circle cx="737.5" cy="873.2" r="3.5"/><circle cx="745.5" cy="873.2" r="3.5"/><circle cx="770.5" cy="873.2" r="3.5"/><circle cx="778.5" cy="873.2" r="3.5"/><circle cx="786.5" cy="873.2" r="3.5"/><circle cx="794.5" cy="873.2" r="3.5"/><circle cx="802.5" cy="873.2" r="3.5"/><circle cx="827.5" cy="873.2" r="3.5"/><circle cx="843.5" cy="873.2" r="3.5"/><circle cx="867.5" cy="873.2" r="3.5"/><circle cx="876.5" cy="873.2" r="3.5"/><circle cx="932.5" cy="873.2" r="3.5"/><circle cx="941.5" cy="873.2" r="3.5"/><circle cx="949.5" cy="873.2" r="3.5"/><circle cx="957.5" cy="873.2" r="3.5"/><circle cx="965.5" cy="873.2" r="3.5"/><circle cx="973.5" cy="873.2" r="3.5"/><circle cx="981.5" cy="873.2" r="3.5"/><circle cx="989.5" cy="873.2" r="3.5"/><circle cx="998.5" cy="873.2" r="3.5"/><circle cx="1006.5" cy="873.2" r="3.5"/><circle cx="1014.5" cy="873.2" r="3.5"/><circle cx="1022.5" cy="873.2" r="3.5"/><circle cx="1030.5" cy="873.2" r="3.5"/><circle cx="1038.5" cy="873.2" r="3.5"/><circle cx="1046.5" cy="873.2" r="3.5"/><circle cx="1055.5" cy="873.2" r="3.5"/><circle cx="1063.5" cy="873.2" r="3.5"/><circle cx="1071.5" cy="873.2" r="3.5"/><circle cx="1079.5" cy="873.2" r="3.5"/><circle cx="1087.5" cy="873.2" r="3.5"/><circle cx="1095.5" cy="873.2" r="3.5"/><circle cx="1103.5" cy="873.2" r="3.5"/><circle cx="1112.5" cy="873.2" r="3.5"/><circle cx="1160.5" cy="873.2" r="3.5"/><circle cx="1169.5" cy="873.2" r="3.5"/><circle cx="1177.5" cy="873.2" r="3.5"/><circle cx="1193.5" cy="873.2" r="3.5"/><circle cx="1217.5" cy="873.2" r="3.5"/><circle cx="1225.5" cy="873.2" r="3.5"/></g>
<g fill="#00ff00"><circle cx="45.5" cy="873.2" r="3.5"/><circle cx="355.5" cy="873.2" r="3.5"/><circle cx="363.5" cy="873.2" r="3.5"/><circle cx="371.5" cy="873.2" r="3.5"/><circle cx="395.5" cy="873.2" r="3.5"/><circle cx="403.5" cy="873.2" r="3.5"/><circle cx="412.5" cy="873.2" r="3.5"/><circle cx="420.5" cy="873.2" r="3.5"/><circle cx="753.5" cy="873.2" r="3.5"/><circle cx="762.5" cy="873.2" r="3.5"/><circle cx="835.5" cy="873.2" r="3.5"/><circle cx="851.5" cy="873.2" r="3.5"/><circle cx="859.5" cy="873.2" r="3.5"/><circle cx="1185.5" cy="873.2" r="3.5"/></g>
<g fill="#ff0000"><circle cx="62.5" cy="873.2" r="3.5"/><circle cx="70.5" cy="873.2" r="3.5"/><circle cx="78.5" cy="873.2" r="3.5"/><circle cx="86.5" cy="873.2" r="3.5"/><circle cx="94.5" cy="873.2" r="3.5"/><circle cx="127.5" cy="873.2" r="3.5"/><circle cx="265.5" cy="873.2" r="3.5"/><circle cx="428.5" cy="873.2" r="3.5"/><circle cx="436.5" cy="873.2" r="3.5"/><circle cx="444.5" cy="873.2" r="3.5"/><circle cx="452.5" cy="873.2" r="3.5"/><circle cx="460.5" cy="873.2" r="3.5"/><circle cx="469.5" cy="873.2" r="3.5"/><circle cx="477.5" cy="873.2" r="3.5"/><circle cx="485.5" cy="873.2" r="3.5"/><circle cx="526.5" cy="873.2" r="3.5"/><circle cx="599.5" cy="873.2" r="3.5"/><circle cx="607.5" cy="873.2" r="3.5"/><circle cx="615.5" cy="873.2" r="3.5"/><circle cx="623.5" cy="873.2" r="3.5"/><circle cx="639.5" cy="873.2" r="3.5"/><circle cx="648.5" cy="873.2" r="3.5"/><circle cx="656.5" cy="873.2" r="3.5"/><circle cx="664.5" cy="873.2" r="3.5"/><circle cx="688.5" cy="873.2" r="3.5"/><circle cx="729.5" cy="873.2" r="3.5"/><circle cx="810.5" cy="873.2" r="3.5"/><circle cx="924.5" cy="873.2" r="3.5"/><circle cx="1120.5" cy="873.2" r="3.5"/><circle cx="1128.5" cy="873.2" r="3.5"/><circle cx="1136.5" cy="873.2" r="3.5"/><circle cx="1144.5" cy="873.2" r="3.5"/><circle cx="1152.5" cy="873.2" r="3.5"/><circle cx="1201.5" cy="873.2" r="3.5"/><circle cx="1209.5" cy="873.2" r="3.5"/></g>
<g fill="#7a0000"><circle cx="135.5" cy="873.2" r="4.3"/><circle cx="143.5" cy="873.2" r="4.3"/><circle cx="151.5" cy="873.2" r="4.3"/><circle cx="159.5" cy="873.2" r="4.3"/><circle cx="167.5" cy="873.2" r="4.3"/><circle cx="176.5" cy="873.2" r="4.3"/><circle cx="184.5" cy="873.2" r="4.3"/><circle cx="192.5" cy="873.2" r="4.3"/><circle cx="200.5" cy="873.2" r="4.3"/><circle cx="208.5" cy="873.2" r="4.3"/><circle cx="216.5" cy="873.2" r="4.3"/><circle cx="224.5" cy="873.2" r="4.3"/><circle cx="233.5" cy="873.2" r="4.3"/><circle cx="241.5" cy="873.2" r="4.3"/><circle cx="249.5" cy="873.2" r="4.3"/><circle cx="257.5" cy="873.2" r="4.3"/><circle cx="631.5" cy="873.2" r="4.3"/><circle cx="819.5" cy="873.2" r="4.3"/><circle cx="884.5" cy="873.2" r="4.3"/><circle cx="892.5" cy="873.2" r="4.3"/><circle cx="900.5" cy="873.2" r="4.3"/><circle cx="908.5" cy="873.2" r="4.3"/><circle cx="916.5" cy="873.2" r="4.3"/></g>
<g fill="#ffff00"><circle cx="13.5" cy="957.2" r="4.35"/><circle cx="265.5" cy="957.2" r="4.35"/><circle cx="273.5" cy="957.2" r="4.35"/><circle cx="281.5" cy="957.2" r="4.35"/><circle cx="289.5" cy="957.2" r="4.35"/><circle cx="298.5" cy="957.2" r="4.35"/><circle cx="306.5" cy="957.2" r="4.35"/><circle cx="314.5" cy="957.2" r="4.35"/><circle cx="322.5" cy="957.2" r="4.35"/><circle cx="379.5" cy="957.2" r="4.35"/><circle cx="387.5" cy="957.2" r="4.35"/><circle cx="395.5" cy="957.2" r="4.35"/><circle cx="493.5" cy="957.2" r="4.35"/><circle cx="542.5" cy="957.2" r="4.35"/><circle cx="566.5" cy="957.2" r="4.35"/><circle cx="574.5" cy="957.2" r="4.35"/><circle cx="582.5" cy="957.2" r="4.35"/><circle cx="672.5" cy="957.2" r="4.35"/><circle cx="680.5" cy="957.2" r="4.35"/><circle cx="696.5" cy="957.2" r="4.35"/><circle cx="705.5" cy="957.2" r="4.35"/><circle cx="721.5" cy="957.2" r="4.35"/><circle cx="737.5" cy="957.2" r="4.35"/><circle cx="794.5" cy="957.2" r="4.35"/><circle cx="867.5" cy="957.2" r="4.35"/><circle cx="941.5" cy="957.2" r="4.35"/><circle cx="949.5" cy="957.2" r="4.35"/><circle cx="957.5" cy="957.2" r="4.35"/><circle cx="998.5" cy="957.2" r="4.35"/><circle cx="1014.5" cy="957.2" r="4.35"/><circle cx="1071.5" cy="957.2" r="4.35"/><circle cx="1087.5" cy="957.2" r="4.35"/><circle cx="1103.5" cy="957.2" r="4.35"/><circle cx="1169.5" cy="957.2" r="4.35"/><circle cx="1193.5" cy="957.2" r="4.35"/></g>
<g fill="#00ff00"><circle cx="21.5" cy="957.2" r="4.35"/><circle cx="37.5" cy="957.2" r="4.35"/><circle cx="45.5" cy="957.2" r="4.35"/><circle cx="330.5" cy="957.2" r="4.35"/><circle cx="338.5" cy="957.2" r="4.35"/><circle cx="346.5" cy="957.2" r="4.35"/><circle cx="355.5" cy="957.2" r="4.35"/><circle cx="363.5" cy="957.2" r="4.35"/><circle cx="371.5" cy="957.2" r="4.35"/><circle cx="403.5" cy="957.2" r="4.35"/><circle cx="412.5" cy="957.2" r="4.35"/><circle cx="420.5" cy="957.2" r="4.35"/><circle cx="591.5" cy="957.2" r="4.35"/><circle cx="753.5" cy="957.2" r="4.35"/><circle cx="762.5" cy="957.2" r="4.35"/><circle cx="827.5" cy="957.2" r="4.35"/><circle cx="835.5" cy="957.2" r="4.35"/><circle cx="843.5" cy="957.2" r="4.35"/><circle cx="851.5" cy="957.2" r="4.35"/><circle cx="859.5" cy="957.2" r="4.35"/><circle cx="965.5" cy="957.2" r="4.35"/><circle cx="973.5" cy="957.2" r="4.35"/><circle cx="981.5" cy="957.2" r="4.35"/><circle cx="989.5" cy="957.2" r="4.35"/><circle cx="1006.5" cy="957.2" r="4.35"/><circle cx="1095.5" cy="957.2" r="4.35"/><circle cx="1177.5" cy="957.2" r="4.35"/><circle cx="1185.5" cy="957.2" r="4.35"/><circle cx="1225.5" cy="957.2" r="4.35"/></g>
<g fill="#ff0000"><circle cx="29.5" cy="957.2" r="4.35"/><circle cx="53.5" cy="957.2" r="4.35"/><circle cx="62.5" cy="957.2" r="4.35"/><circle cx="70.5" cy="957.2" r="4.35"/><circle cx="78.5" cy="957.2" r="4.35"/><circle cx="86.5" cy="957.2" r="4.35"/><circle cx="94.5" cy="957.2" r="4.35"/><circle cx="102.5" cy="957.2" r="4.35"/><circle cx="110.5" cy="957.2" r="4.35"/><circle cx="119.5" cy="957.2" r="4.35"/><circle cx="127.5" cy="957.2" r="4.35"/><circle cx="135.5" cy="957.2" r="4.35"/><circle cx="143.5" cy="957.2" r="4.35"/><circle cx="151.5" cy="957.2" r="4.35"/><circle cx="159.5" cy="957.2" r="4.35"/><circle cx="167.5" cy="957.2" r="4.35"/><circle cx="176.5" cy="957.2" r="4.35"/><circle cx="184.5" cy="957.2" r="4.35"/><circle cx="192.5" cy="957.2" r="4.35"/><circle cx="200.5" cy="957.2" r="4.35"/><circle cx="208.5" cy="957.2" r="4.35"/><circle cx="216.5" cy="957.2" r="4.35"/><circle cx="224.5" cy="957.2" r="4.35"/><circle cx="233.5" cy="957.2" r="4.35"/><circle cx="241.5" cy="957.2" r="4.35"/><circle cx="249.5" cy="957.2" r="4.35"/><circle cx="257.5" cy="957.2" r="4.35"/><circle cx="428.5" cy="957.2" r="4.35"/><circle cx="436.5" cy="957.2" r="4.35"/><circle cx="444.5" cy="957.2" r="4.35"/><circle cx="452.5" cy="957.2" r="4.35"/><circle cx="460.5" cy="957.2" r="4.35"/><circle cx="469.5" cy="957.2" r="4.35"/><circle cx="477.5" cy="957.2" r="4.35"/><circle cx="485.5" cy="957.2" r="4.35"/><circle cx="501.5" cy="957.2" r="4.35"/><circle cx="509.5" cy="957.2" r="4.35"/><circle cx="517.5" cy="957.2" r="4.35"/><circle cx="526.5" cy="957.2" r="4.35"/><circle cx="534.5" cy="957.2" r="4.35"/><circle cx="550.5" cy="957.2" r="4.35"/><circle cx="558.5" cy="957.2" r="4.35"/><circle cx="599.5" cy="957.2" r="4.35"/><circle cx="607.5" cy="957.2" r="4.35"/><circle cx="615.5" cy="957.2" r="4.35"/><circle cx="623.5" cy="957.2" r="4.35"/><circle cx="631.5" cy="957.2" r="4.35"/><circle cx="639.5" cy="957.2" r="4.35"/><circle cx="648.5" cy="957.2" r="4.35"/><circle cx="656.5" cy="957.2" r="4.35"/><circle cx="664.5" cy="957.2" r="4.35"/><circle cx="688.5" cy="957.2" r="4.35"/><circle cx="713.5" cy="957.2" r="4.35"/><circle cx="729.5" cy="957.2" r="4.35"/><circle cx="745.5" cy="957.2" r="4.35"/><circle cx="770.5" cy="957.2" r="4.35"/><circle cx="778.5" cy="957.2" r="4.35"/><circle cx="786.5" cy="957.2" r="4.35"/><circle cx="802.5" cy="957.2" r="4.35"/><circle cx="810.5" cy="957.2" r="4.35"/><circle cx="819.5" cy="957.2" r="4.35"/><circle cx="876.5" cy="957.2" r="4.35"/><circle cx="884.5" cy="957.2" r="4.35"/><circle cx="892.5" cy="957.2" r="4.35"/><circle cx="900.5" cy="957.2" r="4.35"/><circle cx="908.5" cy="957.2" r="4.35"/><circle cx="916.5" cy="957.2" r="4.35"/><circle cx="924.5" cy="957.2" r="4.35"/><circle cx="932.5" cy="957.2" r="4.35"/><circle cx="1022.5" cy="957.2" r="4.35"/><circle cx="1030.5" cy="957.2" r="4.35"/><circle cx="1038.5" cy="957.2" r="4.35"/><circle cx="1046.5" cy="957.2" r="4.35"/><circle cx="1055.5" cy="957.2" r="4.35"/><circle cx="1063.5" cy="957.2" r="4.35"/><circle cx="1079.5" cy="957.2" r="4.35"/><circle cx="1112.5" cy="957.2" r="4.35"/><circle cx="1120.5" cy="957.2" r="4.35"/><circle cx="1128.5" cy="957.2" r="4.35"/><circle cx="1136.5" cy="957.2" r="4.35"/><circle cx="1144.5" cy="957.2" r="4.35"/><circle cx="1152.5" cy="957.2" r="4.35"/><circle cx="1160.5" cy="957.2" r="4.35"/><circle cx="1201.5" cy="957.2" r="4.35"/><circle cx="1209.5" cy="957.2" r="4.35"/><circle cx="1217.5" cy="957.2" r="4.35"/></g>
<g fill="#000000"><circle cx="13.5" cy="990.6" r="4.35"/><circle cx="21.5" cy="990.6" r="4.35"/><circle cx="37.5" cy="990.6" r="4.35"/><circle cx="127.5" cy="990.6" r="4.35"/><circle cx="176.5" cy="990.6" r="4.35"/><circle cx="184.5" cy="990.6" r="4.35"/><circle cx="208.5" cy="990.6" r="4.35"/><circle cx="249.5" cy="990.6" r="4.35"/><circle cx="257.5" cy="990.6" r="4.35"/><circle cx="289.5" cy="990.6" r="4.35"/><circle cx="298.5" cy="990.6" r="4.35"/><circle cx="306.5" cy="990.6" r="4.35"/><circle cx="314.5" cy="990.6" r="4.35"/><circle cx="346.5" cy="990.6" r="4.35"/><circle cx="355.5" cy="990.6" r="4.35"/><circle cx="363.5" cy="990.6" r="4.35"/><circle cx="371.5" cy="990.6" r="4.35"/><circle cx="379.5" cy="990.6" r="4.35"/><circle cx="387.5" cy="990.6" r="4.35"/><circle cx="395.5" cy="990.6" r="4.35"/><circle cx="469.5" cy="990.6" r="4.35"/><circle cx="509.5" cy="990.6" r="4.35"/><circle cx="558.5" cy="990.6" r="4.35"/><circle cx="591.5" cy="990.6" r="4.35"/><circle cx="599.5" cy="990.6" r="4.35"/><circle cx="648.5" cy="990.6" r="4.35"/><circle cx="696.5" cy="990.6" r="4.35"/><circle cx="705.5" cy="990.6" r="4.35"/><circle cx="713.5" cy="990.6" r="4.35"/><circle cx="778.5" cy="990.6" r="4.35"/><circle cx="786.5" cy="990.6" r="4.35"/><circle cx="810.5" cy="990.6" r="4.35"/><circle cx="867.5" cy="990.6" r="4.35"/><circle cx="924.5" cy="990.6" r="4.35"/><circle cx="973.5" cy="990.6" r="4.35"/><circle cx="981.5" cy="990.6" r="4.35"/><circle cx="989.5" cy="990.6" r="4.35"/><circle cx="1055.5" cy="990.6" r="4.35"/><circle cx="1063.5" cy="990.6" r="4.35"/><circle cx="1095.5" cy="990.6" r="4.35"/><circle cx="1112.5" cy="990.6" r="4.35"/><circle cx="1152.5" cy="990.6" r="4.35"/></g>
<g fill="#ff0000"><circle cx="29.5" cy="990.6" r="4.35"/><circle cx="62.5" cy="990.6" r="4.35"/><circle cx="70.5" cy="990.6" r="4.35"/><circle cx="78.5" cy="990.6" r="4.35"/><circle cx="86.5" cy="990.6" r="4.35"/><circle cx="94.5" cy="990.6" r="4.35"/><circle cx="135.5" cy="990.6" r="4.35"/><circle cx="143.5" cy="990.6" r="4.35"/><circle cx="151.5" cy="990.6" r="4.35"/><circle cx="159.5" cy="990.6" r="4.35"/><circle cx="167.5" cy="990.6" r="4.35"/><circle cx="192.5" cy="990.6" r="4.35"/><circle cx="200.5" cy="990.6" r="4.35"/><circle cx="216.5" cy="990.6" r="4.35"/><circle cx="224.5" cy="990.6" r="4.35"/><circle cx="233.5" cy="990.6" r="4.35"/><circle cx="241.5" cy="990.6" r="4.35"/><circle cx="403.5" cy="990.6" r="4.35"/><circle cx="428.5" cy="990.6" r="4.35"/><circle cx="436.5" cy="990.6" r="4.35"/><circle cx="444.5" cy="990.6" r="4.35"/><circle cx="452.5" cy="990.6" r="4.35"/><circle cx="460.5" cy="990.6" r="4.35"/><circle cx="501.5" cy="990.6" r="4.35"/><circle cx="526.5" cy="990.6" r="4.35"/><circle cx="534.5" cy="990.6" r="4.35"/><circle cx="542.5" cy="990.6" r="4.35"/><circle cx="607.5" cy="990.6" r="4.35"/><circle cx="615.5" cy="990.6" r="4.35"/><circle cx="623.5" cy="990.6" r="4.35"/><circle cx="631.5" cy="990.6" r="4.35"/><circle cx="639.5" cy="990.6" r="4.35"/><circle cx="721.5" cy="990.6" r="4.35"/><circle cx="729.5" cy="990.6" r="4.35"/><circle cx="745.5" cy="990.6" r="4.35"/><circle cx="794.5" cy="990.6" r="4.35"/><circle cx="802.5" cy="990.6" r="4.35"/><circle cx="819.5" cy="990.6" r="4.35"/><circle cx="876.5" cy="990.6" r="4.35"/><circle cx="884.5" cy="990.6" r="4.35"/><circle cx="892.5" cy="990.6" r="4.35"/><circle cx="900.5" cy="990.6" r="4.35"/><circle cx="908.5" cy="990.6" r="4.35"/><circle cx="916.5" cy="990.6" r="4.35"/><circle cx="998.5" cy="990.6" r="4.35"/><circle cx="1006.5" cy="990.6" r="4.35"/><circle cx="1022.5" cy="990.6" r="4.35"/><circle cx="1030.5" cy="990.6" r="4.35"/><circle cx="1038.5" cy="990.6" r="4.35"/><circle cx="1046.5" cy="990.6" r="4.35"/><circle cx="1120.5" cy="990.6" r="4.35"/><circle cx="1128.5" cy="990.6" r="4.35"/><circle cx="1136.5" cy="990.6" r="4.35"/><circle cx="1144.5" cy="990.6" r="4.35"/><circle cx="1201.5" cy="990.6" r="4.35"/><circle cx="1209.5" cy="990.6" r="4.35"/><circle cx="1217.5" cy="990.6" r="4.35"/><circle cx="1225.5" cy="990.6" r="4.35"/></g>
<g fill="#00ff00"><circle cx="45.5" cy="990.6" r="4.35"/><circle cx="53.5" cy="990.6" r="4.35"/><circle cx="102.5" cy="990.6" r="4.35"/><circle cx="110.5" cy="990.6" r="4.35"/><circle cx="119.5" cy="990.6" r="4.35"/><circle cx="265.5" cy="990.6" r="4.35"/><circle cx="273.5" cy="990.6" r="4.35"/><circle cx="281.5" cy="990.6" r="4.35"/><circle cx="322.5" cy="990.6" r="4.35"/><circle cx="330.5" cy="990.6" r="4.35"/><circle cx="338.5" cy="990.6" r="4.35"/><circle cx="412.5" cy="990.6" r="4.35"/><circle cx="420.5" cy="990.6" r="4.35"/><circle cx="477.5" cy="990.6" r="4.35"/><circle cx="485.5" cy="990.6" r="4.35"/><circle cx="493.5" cy="990.6" r="4.35"/><circle cx="517.5" cy="990.6" r="4.35"/><circle cx="550.5" cy="990.6" r="4.35"/><circle cx="566.5" cy="990.6" r="4.35"/><circle cx="574.5" cy="990.6" r="4.35"/><circle cx="582.5" cy="990.6" r="4.35"/><circle cx="656.5" cy="990.6" r="4.35"/><circle cx="664.5" cy="990.6" r="4.35"/><circle cx="672.5" cy="990.6" r="4.35"/><circle cx="680.5" cy="990.6" r="4.35"/><circle cx="688.5" cy="990.6" r="4.35"/><circle cx="737.5" cy="990.6" r="4.35"/><circle cx="753.5" cy="990.6" r="4.35"/><circle cx="762.5" cy="990.6" r="4.35"/><circle cx="770.5" cy="990.6" r="4.35"/><circle cx="827.5" cy="990.6" r="4.35"/><circle cx="835.5" cy="990.6" r="4.35"/><circle cx="843.5" cy="990.6" r="4.35"/><circle cx="851.5" cy="990.6" r="4.35"/><circle cx="859.5" cy="990.6" r="4.35"/><circle cx="932.5" cy="990.6" r="4.35"/><circle cx="941.5" cy="990.6" r="4.35"/><circle cx="949.5" cy="990.6" r="4.35"/><circle cx="957.5" cy="990.6" r="4.35"/><circle cx="965.5" cy="990.6" r="4.35"/><circle cx="1014.5" cy="990.6" r="4.35"/><circle cx="1071.5" cy="990.6" r="4.35"/><circle cx="1079.5" cy="990.6" r="4.35"/><circle cx="1087.5" cy="990.6" r="4.35"/><circle cx="1103.5" cy="990.6" r="4.35"/><circle cx="1160.5" cy="990.6" r="4.35"/><circle cx="1169.5" cy="990.6" r="4.35"/><circle cx="1177.5" cy="990.6" r="4.35"/><circle cx="1185.5" cy="990.6" r="4.35"/><circle cx="1193.5" cy="990.6" r="4.35"/></g>
<g fill="#ff0000"><circle cx="13.5" cy="1024.2" r="4.35"/><circle cx="21.5" cy="1024.2" r="4.35"/><circle cx="29.5" cy="1024.2" r="4.35"/><circle cx="37.5" cy="1024.2" r="4.35"/><circle cx="45.5" cy="1024.2" r="4.35"/><circle cx="53.5" cy="1024.2" r="4.35"/><circle cx="62.5" cy="1024.2" r="4.35"/><circle cx="70.5" cy="1024.2" r="4.35"/><circle cx="78.5" cy="1024.2" r="4.35"/><circle cx="86.5" cy="1024.2" r="4.35"/><circle cx="94.5" cy="1024.2" r="4.35"/><circle cx="102.5" cy="1024.2" r="4.35"/><circle cx="110.5" cy="1024.2" r="4.35"/><circle cx="119.5" cy="1024.2" r="4.35"/><circle cx="127.5" cy="1024.2" r="4.35"/><circle cx="135.5" cy="1024.2" r="4.35"/><circle cx="143.5" cy="1024.2" r="4.35"/><circle cx="151.5" cy="1024.2" r="4.35"/><circle cx="159.5" cy="1024.2" r="4.35"/><circle cx="167.5" cy="1024.2" r="4.35"/><circle cx="176.5" cy="1024.2" r="4.35"/><circle cx="184.5" cy="1024.2" r="4.35"/><circle cx="192.5" cy="1024.2" r="4.35"/><circle cx="200.5" cy="1024.2" r="4.35"/><circle cx="208.5" cy="1024.2" r="4.35"/><circle cx="216.5" cy="1024.2" r="4.35"/><circle cx="224.5" cy="1024.2" r="4.35"/><circle cx="233.5" cy="1024.2" r="4.35"/><circle cx="241.5" cy="1024.2" r="4.35"/><circle cx="249.5" cy="1024.2" r="4.35"/><circle cx="257.5" cy="1024.2" r="4.35"/><circle cx="265.5" cy="1024.2" r="4.35"/><circle cx="273.5" cy="1024.2" r="4.35"/><circle cx="281.5" cy="1024.2" r="4.35"/><circle cx="289.5" cy="1024.2" r="4.35"/><circle cx="298.5" cy="1024.2" r="4.35"/><circle cx="306.5" cy="1024.2" r="4.35"/><circle cx="314.5" cy="1024.2" r="4.35"/><circle cx="322.5" cy="1024.2" r="4.35"/><circle cx="330.5" cy="1024.2" r="4.35"/><circle cx="338.5" cy="1024.2" r="4.35"/><circle cx="346.5" cy="1024.2" r="4.35"/><circle cx="355.5" cy="1024.2" r="4.35"/><circle cx="363.5" cy="1024.2" r="4.35"/><circle cx="371.5" cy="1024.2" r="4.35"/><circle cx="379.5" cy="1024.2" r="4.35"/><circle cx="387.5" cy="1024.2" r="4.35"/><circle cx="395.5" cy="1024.2" r="4.35"/><circle cx="403.5" cy="1024.2" r="4.35"/><circle cx="412.5" cy="1024.2" r="4.35"/><circle cx="420.5" cy="1024.2" r="4.35"/><circle cx="428.5" cy="1024.2" r="4.35"/><circle cx="436.5" cy="1024.2" r="4.35"/><circle cx="444.5" cy="1024.2" r="4.35"/><circle cx="452.5" cy="1024.2" r="4.35"/><circle cx="460.5" cy="1024.2" r="4.35"/><circle cx="469.5" cy="1024.2" r="4.35"/><circle cx="477.5" cy="1024.2" r="4.35"/><circle cx="485.5" cy="1024.2" r="4.35"/><circle cx="493.5" cy="1024.2" r="4.35"/><circle cx="501.5" cy="1024.2" r="4.35"/><circle cx="509.5" cy="1024.2" r="4.35"/><circle cx="517.5" cy="1024.2" r="4.35"/><circle cx="526.5" cy="1024.2" r="4.35"/><circle cx="534.5" cy="1024.2" r="4.35"/><circle cx="542.5" cy="1024.2" r="4.35"/><circle cx="550.5" cy="1024.2" r="4.35"/><circle cx="558.5" cy="1024.2" r="4.35"/><circle cx="566.5" cy="1024.2" r="4.35"/><circle cx="574.5" cy="1024.2" r="4.35"/><circle cx="582.5" cy="1024.2" r="4.35"/><circle cx="591.5" cy="1024.2" r="4.35"/><circle cx="599.5" cy="1024.2" r="4.35"/><circle cx="607.5" cy="1024.2" r="4.35"/><circle cx="615.5" cy="1024.2" r="4.35"/><circle cx="623.5" cy="1024.2" r="4.35"/><circle cx="631.5" cy="1024.2" r="4.35"/><circle cx="639.5" cy="1024.2" r="4.35"/><circle cx="648.5" cy="1024.2" r="4.35"/><circle cx="656.5" cy="1024.2" r="4.35"/><circle cx="664.5" cy="1024.2" r="4.35"/><circle cx="672.5" cy="1024.2" r="4.35"/><circle cx="680.5" cy="1024.2" r="4.35"/><circle cx="688.5" cy="1024.2" r="4.35"/><circle cx="696.5" cy="1024.2" r="4.35"/><circle cx="705.5" cy="1024.2" r="4.35"/><circle cx="713.5" cy="1024.2" r="4.35"/><circle cx="721.5" cy="1024.2" r="4.35"/><circle cx="729.5" cy="1024.2" r="4.35"/><circle cx="737.5" cy="1024.2" r="4.35"/><circle cx="745.5" cy="1024.2" r="4.35"/><circle cx="753.5" cy="1024.2" r="4.35"/><circle cx="762.5" cy="1024.2" r="4.35"/><circle cx="770.5" cy="1024.2" r="4.35"/><circle cx="778.5" cy="1024.2" r="4.35"/><circle cx="786.5" cy="1024.2" r="4.35"/><circle cx="794.5" cy="1024.2" r="4.35"/><circle cx="802.5" cy="1024.2" r="4.35"/><circle cx="810.5" cy="1024.2" r="4.35"/><circle cx="819.5" cy="1024.2" r="4.35"/><circle cx="827.5" cy="1024.2" r="4.35"/><circle cx="835.5" cy="1024.2" r="4.35"/><circle cx="843.5" cy="1024.2" r="4.35"/><circle cx="851.5" cy="1024.2" r="4.35"/><circle cx="859.5" cy="1024.2" r="4.35"/><circle cx="867.5" cy="1024.2" r="4.35"/><circle cx="876.5" cy="1024.2" r="4.35"/><circle cx="884.5" cy="1024.2" r="4.35"/><circle cx="908.5" cy="1024.2" r="4.35"/><circle cx="916.5" cy="1024.2" r="4.35"/><circle cx="924.5" cy="1024.2" r="4.35"/><circle cx="932.5" cy="1024.2" r="4.35"/><circle cx="941.5" cy="1024.2" r="4.35"/><circle cx="949.5" cy="1024.2" r="4.35"/><circle cx="957.5" cy="1024.2" r="4.35"/><circle cx="965.5" cy="1024.2" r="4.35"/><circle cx="973.5" cy="1024.2" r="4.35"/><circle cx="981.5" cy="1024.2" r="4.35"/><circle cx="989.5" cy="1024.2" r="4.35"/><circle cx="1071.5" cy="1024.2" r="4.35"/><circle cx="1079.5" cy="1024.2" r="4.35"/><circle cx="1087.5" cy="1024.2" r="4.35"/><circle cx="1095.5" cy="1024.2" r="4.35"/><circle cx="1103.5" cy="1024.2" r="4.35"/><circle cx="1112.5" cy="1024.2" r="4.35"/><circle cx="1120.5" cy="1024.2" r="4.35"/><circle cx="1217.5" cy="1024.2" r="4.35"/><circle cx="1225.5" cy="1024.2" r="4.35"/></g>
<g fill="#00ff00"><circle cx="892.5" cy="1024.2" r="4.35"/><circle cx="900.5" cy="1024.2" r="4.35"/><circle cx="998.5" cy="1024.2" r="4.35"/><circle cx="1006.5" cy="1024.2" r="4.35"/><circle cx="1014.5" cy="1024.2" r="4.35"/><circle cx="1022.5" cy="1024.2" r="4.35"/><circle cx="1030.5" cy="1024.2" r="4.35"/><circle cx="1038.5" cy="1024.2" r="4.35"/><circle cx="1046.5" cy="1024.2" r="4.35"/><circle cx="1055.5" cy="1024.2" r="4.35"/><circle cx="1063.5" cy="1024.2" r="4.35"/><circle cx="1128.5" cy="1024.2" r="4.35"/><circle cx="1136.5" cy="1024.2" r="4.35"/><circle cx="1144.5" cy="1024.2" r="4.35"/><circle cx="1152.5" cy="1024.2" r="4.35"/><circle cx="1160.5" cy="1024.2" r="4.35"/><circle cx="1169.5" cy="1024.2" r="4.35"/><circle cx="1177.5" cy="1024.2" r="4.35"/><circle cx="1185.5" cy="1024.2" r="4.35"/><circle cx="1193.5" cy="1024.2" r="4.35"/><circle cx="1201.5" cy="1024.2" r="4.35"/><circle cx="1209.5" cy="1024.2" r="4.35"/></g>
<g fill="#000000"><circle cx="13.5" cy="1057.5" r="4.35"/><circle cx="21.5" cy="1057.5" r="4.35"/><circle cx="29.5" cy="1057.5" r="4.35"/><circle cx="37.5" cy="1057.5" r="4.35"/><circle cx="45.5" cy="1057.5" r="4.35"/><circle cx="53.5" cy="1057.5" r="4.35"/><circle cx="62.5" cy="1057.5" r="4.35"/><circle cx="70.5" cy="1057.5" r="4.35"/><circle cx="110.5" cy="1057.5" r="4.35"/><circle cx="119.5" cy="1057.5" r="4.35"/><circle cx="127.5" cy="1057.5" r="4.35"/><circle cx="135.5" cy="1057.5" r="4.35"/><circle cx="273.5" cy="1057.5" r="4.35"/><circle cx="281.5" cy="1057.5" r="4.35"/><circle cx="289.5" cy="1057.5" r="4.35"/><circle cx="298.5" cy="1057.5" r="4.35"/><circle cx="306.5" cy="1057.5" r="4.35"/><circle cx="314.5" cy="1057.5" r="4.35"/><circle cx="322.5" cy="1057.5" r="4.35"/><circle cx="330.5" cy="1057.5" r="4.35"/><circle cx="338.5" cy="1057.5" r="4.35"/><circle cx="346.5" cy="1057.5" r="4.35"/><circle cx="355.5" cy="1057.5" r="4.35"/><circle cx="363.5" cy="1057.5" r="4.35"/><circle cx="371.5" cy="1057.5" r="4.35"/><circle cx="436.5" cy="1057.5" r="4.35"/><circle cx="517.5" cy="1057.5" r="4.35"/><circle cx="566.5" cy="1057.5" r="4.35"/><circle cx="574.5" cy="1057.5" r="4.35"/><circle cx="582.5" cy="1057.5" r="4.35"/><circle cx="591.5" cy="1057.5" r="4.35"/><circle cx="599.5" cy="1057.5" r="4.35"/><circle cx="607.5" cy="1057.5" r="4.35"/><circle cx="672.5" cy="1057.5" r="4.35"/><circle cx="680.5" cy="1057.5" r="4.35"/><circle cx="688.5" cy="1057.5" r="4.35"/><circle cx="696.5" cy="1057.5" r="4.35"/><circle cx="705.5" cy="1057.5" r="4.35"/><circle cx="713.5" cy="1057.5" r="4.35"/><circle cx="721.5" cy="1057.5" r="4.35"/><circle cx="729.5" cy="1057.5" r="4.35"/><circle cx="737.5" cy="1057.5" r="4.35"/><circle cx="745.5" cy="1057.5" r="4.35"/><circle cx="753.5" cy="1057.5" r="4.35"/><circle cx="762.5" cy="1057.5" r="4.35"/><circle cx="770.5" cy="1057.5" r="4.35"/><circle cx="778.5" cy="1057.5" r="4.35"/><circle cx="786.5" cy="1057.5" r="4.35"/><circle cx="794.5" cy="1057.5" r="4.35"/><circle cx="835.5" cy="1057.5" r="4.35"/><circle cx="843.5" cy="1057.5" r="4.35"/><circle cx="851.5" cy="1057.5" r="4.35"/><circle cx="949.5" cy="1057.5" r="4.35"/><circle cx="957.5" cy="1057.5" r="4.35"/><circle cx="1022.5" cy="1057.5" r="4.35"/><circle cx="1079.5" cy="1057.5" r="4.35"/><circle cx="1087.5" cy="1057.5" r="4.35"/><circle cx="1095.5" cy="1057.5" r="4.35"/><circle cx="1103.5" cy="1057.5" r="4.35"/><circle cx="1112.5" cy="1057.5" r="4.35"/><circle cx="1120.5" cy="1057.5" r="4.35"/><circle cx="1177.5" cy="1057.5" r="4.35"/><circle cx="1185.5" cy="1057.5" r="4.35"/><circle cx="1193.5" cy="1057.5" r="4.35"/><circle cx="1201.5" cy="1057.5" r="4.35"/></g>
<g fill="#ff0000"><circle cx="78.5" cy="1057.5" r="4.35"/><circle cx="86.5" cy="1057.5" r="4.35"/><circle cx="94.5" cy="1057.5" r="4.35"/><circle cx="102.5" cy="1057.5" r="4.35"/><circle cx="143.5" cy="1057.5" r="4.35"/><circle cx="151.5" cy="1057.5" r="4.35"/><circle cx="159.5" cy="1057.5" r="4.35"/><circle cx="167.5" cy="1057.5" r="4.35"/><circle cx="176.5" cy="1057.5" r="4.35"/><circle cx="184.5" cy="1057.5" r="4.35"/><circle cx="192.5" cy="1057.5" r="4.35"/><circle cx="200.5" cy="1057.5" r="4.35"/><circle cx="208.5" cy="1057.5" r="4.35"/><circle cx="216.5" cy="1057.5" r="4.35"/><circle cx="224.5" cy="1057.5" r="4.35"/><circle cx="233.5" cy="1057.5" r="4.35"/><circle cx="241.5" cy="1057.5" r="4.35"/><circle cx="249.5" cy="1057.5" r="4.35"/><circle cx="257.5" cy="1057.5" r="4.35"/><circle cx="265.5" cy="1057.5" r="4.35"/><circle cx="444.5" cy="1057.5" r="4.35"/><circle cx="452.5" cy="1057.5" r="4.35"/><circle cx="460.5" cy="1057.5" r="4.35"/><circle cx="469.5" cy="1057.5" r="4.35"/><circle cx="477.5" cy="1057.5" r="4.35"/><circle cx="485.5" cy="1057.5" r="4.35"/><circle cx="493.5" cy="1057.5" r="4.35"/><circle cx="501.5" cy="1057.5" r="4.35"/><circle cx="509.5" cy="1057.5" r="4.35"/><circle cx="526.5" cy="1057.5" r="4.35"/><circle cx="534.5" cy="1057.5" r="4.35"/><circle cx="542.5" cy="1057.5" r="4.35"/><circle cx="550.5" cy="1057.5" r="4.35"/><circle cx="558.5" cy="1057.5" r="4.35"/><circle cx="615.5" cy="1057.5" r="4.35"/><circle cx="623.5" cy="1057.5" r="4.35"/><circle cx="631.5" cy="1057.5" r="4.35"/><circle cx="639.5" cy="1057.5" r="4.35"/><circle cx="648.5" cy="1057.5" r="4.35"/><circle cx="656.5" cy="1057.5" r="4.35"/><circle cx="664.5" cy="1057.5" r="4.35"/><circle cx="802.5" cy="1057.5" r="4.35"/><circle cx="810.5" cy="1057.5" r="4.35"/><circle cx="819.5" cy="1057.5" r="4.35"/><circle cx="827.5" cy="1057.5" r="4.35"/><circle cx="892.5" cy="1057.5" r="4.35"/><circle cx="900.5" cy="1057.5" r="4.35"/><circle cx="908.5" cy="1057.5" r="4.35"/><circle cx="916.5" cy="1057.5" r="4.35"/><circle cx="924.5" cy="1057.5" r="4.35"/><circle cx="932.5" cy="1057.5" r="4.35"/><circle cx="941.5" cy="1057.5" r="4.35"/><circle cx="1030.5" cy="1057.5" r="4.35"/><circle cx="1038.5" cy="1057.5" r="4.35"/><circle cx="1046.5" cy="1057.5" r="4.35"/><circle cx="1055.5" cy="1057.5" r="4.35"/><circle cx="1063.5" cy="1057.5" r="4.35"/><circle cx="1071.5" cy="1057.5" r="4.35"/><circle cx="1128.5" cy="1057.5" r="4.35"/><circle cx="1136.5" cy="1057.5" r="4.35"/><circle cx="1144.5" cy="1057.5" r="4.35"/><circle cx="1152.5" cy="1057.5" r="4.35"/><circle cx="1160.5" cy="1057.5" r="4.35"/><circle cx="1169.5" cy="1057.5" r="4.35"/><circle cx="1209.5" cy="1057.5" r="4.35"/><circle cx="1217.5" cy="1057.5" r="4.35"/><circle cx="1225.5" cy="1057.5" r="4.35"/></g>
<g fill="#00ff00"><circle cx="379.5" cy="1057.5" r="4.35"/><circle cx="387.5" cy="1057.5" r="4.35"/><circle cx="395.5" cy="1057.5" r="4.35"/><circle cx="403.5" cy="1057.5" r="4.35"/><circle cx="412.5" cy="1057.5" r="4.35"/><circle cx="420.5" cy="1057.5" r="4.35"/><circle cx="428.5" cy="1057.5" r="4.35"/><circle cx="859.5" cy="1057.5" r="4.35"/><circle cx="867.5" cy="1057.5" r="4.35"/><circle cx="876.5" cy="1057.5" r="4.35"/><circle cx="884.5" cy="1057.5" r="4.35"/><circle cx="965.5" cy="1057.5" r="4.35"/><circle cx="973.5" cy="1057.5" r="4.35"/><circle cx="981.5" cy="1057.5" r="4.35"/><circle cx="989.5" cy="1057.5" r="4.35"/><circle cx="998.5" cy="1057.5" r="4.35"/><circle cx="1006.5" cy="1057.5" r="4.35"/><circle cx="1014.5" cy="1057.5" r="4.35"/></g>
<g fill="#000000"><circle cx="13.5" cy="1091.2" r="4.35"/><circle cx="70.5" cy="1091.2" r="4.35"/><circle cx="119.5" cy="1091.2" r="4.35"/><circle cx="127.5" cy="1091.2" r="4.35"/><circle cx="265.5" cy="1091.2" r="4.35"/><circle cx="273.5" cy="1091.2" r="4.35"/><circle cx="281.5" cy="1091.2" r="4.35"/><circle cx="289.5" cy="1091.2" r="4.35"/><circle cx="298.5" cy="1091.2" r="4.35"/><circle cx="306.5" cy="1091.2" r="4.35"/><circle cx="314.5" cy="1091.2" r="4.35"/><circle cx="387.5" cy="1091.2" r="4.35"/><circle cx="395.5" cy="1091.2" r="4.35"/><circle cx="403.5" cy="1091.2" r="4.35"/><circle cx="412.5" cy="1091.2" r="4.35"/><circle cx="420.5" cy="1091.2" r="4.35"/><circle cx="428.5" cy="1091.2" r="4.35"/><circle cx="493.5" cy="1091.2" r="4.35"/><circle cx="501.5" cy="1091.2" r="4.35"/><circle cx="509.5" cy="1091.2" r="4.35"/><circle cx="517.5" cy="1091.2" r="4.35"/><circle cx="526.5" cy="1091.2" r="4.35"/><circle cx="534.5" cy="1091.2" r="4.35"/><circle cx="542.5" cy="1091.2" r="4.35"/><circle cx="550.5" cy="1091.2" r="4.35"/><circle cx="558.5" cy="1091.2" r="4.35"/><circle cx="566.5" cy="1091.2" r="4.35"/><circle cx="574.5" cy="1091.2" r="4.35"/><circle cx="582.5" cy="1091.2" r="4.35"/><circle cx="591.5" cy="1091.2" r="4.35"/><circle cx="607.5" cy="1091.2" r="4.35"/><circle cx="672.5" cy="1091.2" r="4.35"/><circle cx="680.5" cy="1091.2" r="4.35"/><circle cx="688.5" cy="1091.2" r="4.35"/><circle cx="696.5" cy="1091.2" r="4.35"/><circle cx="705.5" cy="1091.2" r="4.35"/><circle cx="713.5" cy="1091.2" r="4.35"/><circle cx="721.5" cy="1091.2" r="4.35"/><circle cx="729.5" cy="1091.2" r="4.35"/><circle cx="737.5" cy="1091.2" r="4.35"/><circle cx="745.5" cy="1091.2" r="4.35"/><circle cx="753.5" cy="1091.2" r="4.35"/><circle cx="835.5" cy="1091.2" r="4.35"/><circle cx="843.5" cy="1091.2" r="4.35"/><circle cx="884.5" cy="1091.2" r="4.35"/><circle cx="949.5" cy="1091.2" r="4.35"/><circle cx="957.5" cy="1091.2" r="4.35"/><circle cx="1030.5" cy="1091.2" r="4.35"/><circle cx="1038.5" cy="1091.2" r="4.35"/><circle cx="1087.5" cy="1091.2" r="4.35"/><circle cx="1095.5" cy="1091.2" r="4.35"/><circle cx="1103.5" cy="1091.2" r="4.35"/><circle cx="1112.5" cy="1091.2" r="4.35"/><circle cx="1120.5" cy="1091.2" r="4.35"/><circle cx="1177.5" cy="1091.2" r="4.35"/><circle cx="1185.5" cy="1091.2" r="4.35"/><circle cx="1201.5" cy="1091.2" r="4.35"/><circle cx="1209.5" cy="1091.2" r="4.35"/></g>
<g fill="#00ff00"><circle cx="21.5" cy="1091.2" r="4.35"/><circle cx="29.5" cy="1091.2" r="4.35"/><circle cx="37.5" cy="1091.2" r="4.35"/><circle cx="45.5" cy="1091.2" r="4.35"/><circle cx="53.5" cy="1091.2" r="4.35"/><circle cx="62.5" cy="1091.2" r="4.35"/><circle cx="322.5" cy="1091.2" r="4.35"/><circle cx="330.5" cy="1091.2" r="4.35"/><circle cx="338.5" cy="1091.2" r="4.35"/><circle cx="346.5" cy="1091.2" r="4.35"/><circle cx="355.5" cy="1091.2" r="4.35"/><circle cx="363.5" cy="1091.2" r="4.35"/><circle cx="371.5" cy="1091.2" r="4.35"/><circle cx="379.5" cy="1091.2" r="4.35"/><circle cx="599.5" cy="1091.2" r="4.35"/><circle cx="762.5" cy="1091.2" r="4.35"/><circle cx="770.5" cy="1091.2" r="4.35"/><circle cx="778.5" cy="1091.2" r="4.35"/><circle cx="786.5" cy="1091.2" r="4.35"/><circle cx="851.5" cy="1091.2" r="4.35"/><circle cx="859.5" cy="1091.2" r="4.35"/><circle cx="867.5" cy="1091.2" r="4.35"/><circle cx="876.5" cy="1091.2" r="4.35"/><circle cx="965.5" cy="1091.2" r="4.35"/><circle cx="973.5" cy="1091.2" r="4.35"/><circle cx="981.5" cy="1091.2" r="4.35"/><circle cx="989.5" cy="1091.2" r="4.35"/><circle cx="998.5" cy="1091.2" r="4.35"/><circle cx="1006.5" cy="1091.2" r="4.35"/><circle cx="1014.5" cy="1091.2" r="4.35"/><circle cx="1022.5" cy="1091.2" r="4.35"/><circle cx="1193.5" cy="1091.2" r="4.35"/></g>
<g fill="#ff0000"><circle cx="78.5" cy="1091.2" r="4.35"/><circle cx="86.5" cy="1091.2" r="4.35"/><circle cx="94.5" cy="1091.2" r="4.35"/><circle cx="102.5" cy="1091.2" r="4.35"/><circle cx="110.5" cy="1091.2" r="4.35"/><circle cx="135.5" cy="1091.2" r="4.35"/><circle cx="143.5" cy="1091.2" r="4.35"/><circle cx="151.5" cy="1091.2" r="4.35"/><circle cx="159.5" cy="1091.2" r="4.35"/><circle cx="167.5" cy="1091.2" r="4.35"/><circle cx="176.5" cy="1091.2" r="4.35"/><circle cx="184.5" cy="1091.2" r="4.35"/><circle cx="192.5" cy="1091.2" r="4.35"/><circle cx="200.5" cy="1091.2" r="4.35"/><circle cx="208.5" cy="1091.2" r="4.35"/><circle cx="216.5" cy="1091.2" r="4.35"/><circle cx="224.5" cy="1091.2" r="4.35"/><circle cx="233.5" cy="1091.2" r="4.35"/><circle cx="241.5" cy="1091.2" r="4.35"/><circle cx="249.5" cy="1091.2" r="4.35"/><circle cx="257.5" cy="1091.2" r="4.35"/><circle cx="436.5" cy="1091.2" r="4.35"/><circle cx="444.5" cy="1091.2" r="4.35"/><circle cx="452.5" cy="1091.2" r="4.35"/><circle cx="460.5" cy="1091.2" r="4.35"/><circle cx="469.5" cy="1091.2" r="4.35"/><circle cx="477.5" cy="1091.2" r="4.35"/><circle cx="485.5" cy="1091.2" r="4.35"/><circle cx="615.5" cy="1091.2" r="4.35"/><circle cx="623.5" cy="1091.2" r="4.35"/><circle cx="631.5" cy="1091.2" r="4.35"/><circle cx="639.5" cy="1091.2" r="4.35"/><circle cx="648.5" cy="1091.2" r="4.35"/><circle cx="656.5" cy="1091.2" r="4.35"/><circle cx="664.5" cy="1091.2" r="4.35"/><circle cx="794.5" cy="1091.2" r="4.35"/><circle cx="802.5" cy="1091.2" r="4.35"/><circle cx="810.5" cy="1091.2" r="4.35"/><circle cx="819.5" cy="1091.2" r="4.35"/><circle cx="827.5" cy="1091.2" r="4.35"/><circle cx="892.5" cy="1091.2" r="4.35"/><circle cx="900.5" cy="1091.2" r="4.35"/><circle cx="908.5" cy="1091.2" r="4.35"/><circle cx="916.5" cy="1091.2" r="4.35"/><circle cx="924.5" cy="1091.2" r="4.35"/><circle cx="932.5" cy="1091.2" r="4.35"/><circle cx="941.5" cy="1091.2" r="4.35"/><circle cx="1046.5" cy="1091.2" r="4.35"/><circle cx="1055.5" cy="1091.2" r="4.35"/><circle cx="1063.5" cy="1091.2" r="4.35"/><circle cx="1071.5" cy="1091.2" r="4.35"/><circle cx="1079.5" cy="1091.2" r="4.35"/><circle cx="1128.5" cy="1091.2" r="4.35"/><circle cx="1136.5" cy="1091.2" r="4.35"/><circle cx="1144.5" cy="1091.2" r="4.35"/><circle cx="1152.5" cy="1091.2" r="4.35"/><circle cx="1160.5" cy="1091.2" r="4.35"/><circle cx="1169.5" cy="1091.2" r="4.35"/><circle cx="1217.5" cy="1091.2" r="4.35"/><circle cx="1225.5" cy="1091.2" r="4.35"/></g>
<g fill="#ff0000"><circle cx="13.5" cy="1125.0" r="4.35"/><circle cx="21.5" cy="1125.0" r="4.35"/><circle cx="29.5" cy="1125.0" r="4.35"/><circle cx="37.5" cy="1125.0" r="4.35"/><circle cx="45.5" cy="1125.0" r="4.35"/><circle cx="53.5" cy="1125.0" r="4.35"/><circle cx="62.5" cy="1125.0" r="4.35"/><circle cx="70.5" cy="1125.0" r="4.35"/><circle cx="78.5" cy="1125.0" r="4.35"/><circle cx="86.5" cy="1125.0" r="4.35"/><circle cx="94.5" cy="1125.0" r="4.35"/><circle cx="102.5" cy="1125.0" r="4.35"/><circle cx="110.5" cy="1125.0" r="4.35"/><circle cx="119.5" cy="1125.0" r="4.35"/><circle cx="127.5" cy="1125.0" r="4.35"/><circle cx="135.5" cy="1125.0" r="4.35"/><circle cx="143.5" cy="1125.0" r="4.35"/><circle cx="151.5" cy="1125.0" r="4.35"/><circle cx="159.5" cy="1125.0" r="4.35"/><circle cx="167.5" cy="1125.0" r="4.35"/><circle cx="176.5" cy="1125.0" r="4.35"/><circle cx="184.5" cy="1125.0" r="4.35"/><circle cx="192.5" cy="1125.0" r="4.35"/><circle cx="200.5" cy="1125.0" r="4.35"/><circle cx="208.5" cy="1125.0" r="4.35"/><circle cx="216.5" cy="1125.0" r="4.35"/><circle cx="224.5" cy="1125.0" r="4.35"/><circle cx="233.5" cy="1125.0" r="4.35"/><circle cx="241.5" cy="1125.0" r="4.35"/><circle cx="249.5" cy="1125.0" r="4.35"/><circle cx="257.5" cy="1125.0" r="4.35"/><circle cx="265.5" cy="1125.0" r="4.35"/><circle cx="273.5" cy="1125.0" r="4.35"/><circle cx="281.5" cy="1125.0" r="4.35"/><circle cx="289.5" cy="1125.0" r="4.35"/><circle cx="298.5" cy="1125.0" r="4.35"/><circle cx="306.5" cy="1125.0" r="4.35"/><circle cx="314.5" cy="1125.0" r="4.35"/><circle cx="322.5" cy="1125.0" r="4.35"/><circle cx="330.5" cy="1125.0" r="4.35"/><circle cx="338.5" cy="1125.0" r="4.35"/><circle cx="346.5" cy="1125.0" r="4.35"/><circle cx="355.5" cy="1125.0" r="4.35"/><circle cx="363.5" cy="1125.0" r="4.35"/><circle cx="371.5" cy="1125.0" r="4.35"/><circle cx="452.5" cy="1125.0" r="4.35"/><circle cx="460.5" cy="1125.0" r="4.35"/><circle cx="469.5" cy="1125.0" r="4.35"/><circle cx="477.5" cy="1125.0" r="4.35"/><circle cx="485.5" cy="1125.0" r="4.35"/><circle cx="493.5" cy="1125.0" r="4.35"/><circle cx="501.5" cy="1125.0" r="4.35"/><circle cx="509.5" cy="1125.0" r="4.35"/><circle cx="517.5" cy="1125.0" r="4.35"/><circle cx="526.5" cy="1125.0" r="4.35"/><circle cx="534.5" cy="1125.0" r="4.35"/><circle cx="542.5" cy="1125.0" r="4.35"/><circle cx="550.5" cy="1125.0" r="4.35"/><circle cx="558.5" cy="1125.0" r="4.35"/><circle cx="566.5" cy="1125.0" r="4.35"/><circle cx="574.5" cy="1125.0" r="4.35"/><circle cx="582.5" cy="1125.0" r="4.35"/><circle cx="591.5" cy="1125.0" r="4.35"/><circle cx="599.5" cy="1125.0" r="4.35"/><circle cx="607.5" cy="1125.0" r="4.35"/><circle cx="615.5" cy="1125.0" r="4.35"/><circle cx="623.5" cy="1125.0" r="4.35"/><circle cx="631.5" cy="1125.0" r="4.35"/><circle cx="639.5" cy="1125.0" r="4.35"/><circle cx="648.5" cy="1125.0" r="4.35"/><circle cx="656.5" cy="1125.0" r="4.35"/><circle cx="664.5" cy="1125.0" r="4.35"/><circle cx="672.5" cy="1125.0" r="4.35"/><circle cx="680.5" cy="1125.0" r="4.35"/><circle cx="688.5" cy="1125.0" r="4.35"/><circle cx="696.5" cy="1125.0" r="4.35"/><circle cx="705.5" cy="1125.0" r="4.35"/><circle cx="713.5" cy="1125.0" r="4.35"/><circle cx="721.5" cy="1125.0" r="4.35"/><circle cx="729.5" cy="1125.0" r="4.35"/><circle cx="737.5" cy="1125.0" r="4.35"/><circle cx="745.5" cy="1125.0" r="4.35"/><circle cx="753.5" cy="1125.0" r="4.35"/><circle cx="762.5" cy="1125.0" r="4.35"/><circle cx="770.5" cy="1125.0" r="4.35"/><circle cx="778.5" cy="1125.0" r="4.35"/><circle cx="786.5" cy="1125.0" r="4.35"/><circle cx="794.5" cy="1125.0" r="4.35"/><circle cx="802.5" cy="1125.0" r="4.35"/><circle cx="810.5" cy="1125.0" r="4.35"/><circle cx="819.5" cy="1125.0" r="4.35"/><circle cx="827.5" cy="1125.0" r="4.35"/><circle cx="835.5" cy="1125.0" r="4.35"/><circle cx="843.5" cy="1125.0" r="4.35"/><circle cx="851.5" cy="1125.0" r="4.35"/><circle cx="900.5" cy="1125.0" r="4.35"/><circle cx="908.5" cy="1125.0" r="4.35"/><circle cx="916.5" cy="1125.0" r="4.35"/><circle cx="924.5" cy="1125.0" r="4.35"/><circle cx="932.5" cy="1125.0" r="4.35"/><circle cx="941.5" cy="1125.0" r="4.35"/><circle cx="949.5" cy="1125.0" r="4.35"/><circle cx="957.5" cy="1125.0" r="4.35"/><circle cx="1030.5" cy="1125.0" r="4.35"/><circle cx="1038.5" cy="1125.0" r="4.35"/><circle cx="1046.5" cy="1125.0" r="4.35"/><circle cx="1055.5" cy="1125.0" r="4.35"/><circle cx="1063.5" cy="1125.0" r="4.35"/><circle cx="1071.5" cy="1125.0" r="4.35"/><circle cx="1079.5" cy="1125.0" r="4.35"/><circle cx="1087.5" cy="1125.0" r="4.35"/><circle cx="1095.5" cy="1125.0" r="4.35"/><circle cx="1103.5" cy="1125.0" r="4.35"/><circle cx="1112.5" cy="1125.0" r="4.35"/><circle cx="1120.5" cy="1125.0" r="4.35"/><circle cx="1128.5" cy="1125.0" r="4.35"/><circle cx="1136.5" cy="1125.0" r="4.35"/><circle cx="1144.5" cy="1125.0" r="4.35"/><circle cx="1152.5" cy="1125.0" r="4.35"/><circle cx="1160.5" cy="1125.0" r="4.35"/><circle cx="1169.5" cy="1125.0" r="4.35"/><circle cx="1177.5" cy="1125.0" r="4.35"/><circle cx="1185.5" cy="1125.0" r="4.35"/><circle cx="1193.5" cy="1125.0" r="4.35"/><circle cx="1201.5" cy="1125.0" r="4.35"/><circle cx="1209.5" cy="1125.0" r="4.35"/><circle cx="1217.5" cy="1125.0" r="4.35"/><circle cx="1225.5" cy="1125.0" r="4.35"/></g>
<g fill="#ffff00"><circle cx="379.5" cy="1125.0" r="4.35"/><circle cx="387.5" cy="1125.0" r="4.35"/><circle cx="395.5" cy="1125.0" r="4.35"/><circle cx="859.5" cy="1125.0" r="4.35"/><circle cx="867.5" cy="1125.0" r="4.35"/><circle cx="876.5" cy="1125.0" r="4.35"/><circle cx="965.5" cy="1125.0" r="4.35"/><circle cx="973.5" cy="1125.0" r="4.35"/><circle cx="981.5" cy="1125.0" r="4.35"/><circle cx="989.5" cy="1125.0" r="4.35"/><circle cx="998.5" cy="1125.0" r="4.35"/><circle cx="1006.5" cy="1125.0" r="4.35"/><circle cx="1014.5" cy="1125.0" r="4.35"/><circle cx="1022.5" cy="1125.0" r="4.35"/></g>
<g fill="#00ff00"><circle cx="403.5" cy="1125.0" r="4.35"/><circle cx="412.5" cy="1125.0" r="4.35"/><circle cx="420.5" cy="1125.0" r="4.35"/><circle cx="428.5" cy="1125.0" r="4.35"/><circle cx="436.5" cy="1125.0" r="4.35"/><circle cx="884.5" cy="1125.0" r="4.35"/></g>
<g fill="#000000"><circle cx="444.5" cy="1125.0" r="4.35"/><circle cx="892.5" cy="1125.0" r="4.35"/></g>
</g>
<g font-family='"Liberation Sans", sans-serif'>
<text x="10.0" y="19.8" font-size="13" fill="#131722" textLength="363.0" lengthAdjust="spacingAndGlyphs">Lavirco erstellt mit TradingView.com, Okt 01, 2025 09:37 UTC+2</text>
<text x="18.3" y="47.3" font-size="13" fill="#131722" textLength="133.4" lengthAdjust="spacingAndGlyphs">Merck KGaA · 1T · XETR</text>
<text x="159.2" y="47.3" font-size="13" fill="#131722">O</text>
<text x="168.5" y="47.3" font-size="13" fill="#089981" textLength="33.4" lengthAdjust="spacingAndGlyphs">111,45</text>
<text x="209.9" y="47.3" font-size="13" fill="#131722">H</text>
<text x="219.4" y="47.3" font-size="13" fill="#089981" textLength="35.1" lengthAdjust="spacingAndGlyphs">115,40</text>
<text x="262.0" y="47.3" font-size="13" fill="#131722">L</text>
<text x="268.8" y="47.3" font-size="13" fill="#089981" textLength="33.9" lengthAdjust="spacingAndGlyphs">111,30</text>
<text x="310.5" y="47.3" font-size="13" fill="#131722">C</text>
<text x="319.7" y="47.3" font-size="13" fill="#089981" textLength="34.7" lengthAdjust="spacingAndGlyphs">115,05</text>
<text x="361.9" y="47.3" font-size="13" fill="#089981" textLength="86.3" lengthAdjust="spacingAndGlyphs">+5,60 (+5,12%)</text>
<text x="18.3" y="64.3" font-size="13" fill="#131722" textLength="171.8" lengthAdjust="spacingAndGlyphs">Croc 3.0 Chart - Basic (on, on)</text>
<text x="198.1" y="64.3" font-size="13" fill="#0000ff" textLength="35.6" lengthAdjust="spacingAndGlyphs">110,23</text>
<text x="241.3" y="64.3" font-size="13" fill="#ff0000" textLength="35.3" lengthAdjust="spacingAndGlyphs">110,23</text>
<text x="284.1" y="64.3" font-size="13" fill="#c0c0c0" textLength="35.6" lengthAdjust="spacingAndGlyphs">115,05</text>
<text x="327.3" y="64.3" font-size="13" fill="#00ff00" textLength="35.6" lengthAdjust="spacingAndGlyphs">110,23</text>
<text x="370.4" y="64.3" font-size="13" fill="#ff00ff" textLength="37.6" lengthAdjust="spacingAndGlyphs">108,53</text>
<text x="415.5" y="64.3" font-size="13" fill="#0000ff" textLength="37.9" lengthAdjust="spacingAndGlyphs">108,29</text>
<text x="460.9" y="64.3" font-size="13" fill="#ff0000" textLength="36.1" lengthAdjust="spacingAndGlyphs">108,13</text>
<text x="504.6" y="64.3" font-size="13" fill="#00ff00" textLength="37.1" lengthAdjust="spacingAndGlyphs">108,27</text>
<g stroke="#131722" stroke-width="0.9" fill="none"><circle cx="553.0" cy="60.2" r="3.3"/><path d="M549.1 64.3L556.9 56.1"/></g>
<g stroke="#131722" stroke-width="0.9" fill="none"><circle cx="568.4" cy="60.2" r="3.3"/><path d="M564.5 64.3L572.3 56.1"/></g>
<g stroke="#131722" stroke-width="0.9" fill="none"><circle cx="583.7" cy="60.2" r="3.3"/><path d="M579.8 64.3L587.6 56.1"/></g>
<g stroke="#131722" stroke-width="0.9" fill="none"><circle cx="599.1" cy="60.2" r="3.3"/><path d="M595.2 64.3L603.0 56.1"/></g>
<g stroke="#131722" stroke-width="0.9" fill="none"><circle cx="614.5" cy="60.2" r="3.3"/><path d="M610.6 64.3L618.4 56.1"/></g>
<g stroke="#131722" stroke-width="0.9" fill="none"><circle cx="629.8" cy="60.2" r="3.3"/><path d="M625.9 64.3L633.7 56.1"/></g>
<g stroke="#131722" stroke-width="0.9" fill="none"><circle cx="645.2" cy="60.2" r="3.3"/><path d="M641.3 64.3L649.1 56.1"/></g>
<g stroke="#131722" stroke-width="0.9" fill="none"><circle cx="660.6" cy="60.2" r="3.3"/><path d="M656.7 64.3L664.5 56.1"/></g>
<g stroke="#131722" stroke-width="0.9" fill="none"><circle cx="675.9" cy="60.2" r="3.3"/><path d="M672.0 64.3L679.8 56.1"/></g>
<g stroke="#131722" stroke-width="0.9" fill="none"><circle cx="691.3" cy="60.2" r="3.3"/><path d="M687.4 64.3L695.2 56.1"/></g>
<g stroke="#131722" stroke-width="0.9" fill="none"><circle cx="706.7" cy="60.2" r="3.3"/><path d="M702.8 64.3L710.6 56.1"/></g>
<g stroke="#131722" stroke-width="0.9" fill="none"><circle cx="722.0" cy="60.2" r="3.3"/><path d="M718.1 64.3L725.9 56.1"/></g>
<g stroke="#131722" stroke-width="0.9" fill="none"><circle cx="737.4" cy="60.2" r="3.3"/><path d="M733.5 64.3L741.3 56.1"/></g>
<g stroke="#131722" stroke-width="0.9" fill="none"><circle cx="752.8" cy="60.2" r="3.3"/><path d="M748.9 64.3L756.7 56.1"/></g>
<g stroke="#131722" stroke-width="0.9" fill="none"><circle cx="768.1" cy="60.2" r="3.3"/><path d="M764.2 64.3L772.0 56.1"/></g>
<g stroke="#131722" stroke-width="0.9" fill="none"><circle cx="783.5" cy="60.2" r="3.3"/><path d="M779.6 64.3L787.4 56.1"/></g>
<g stroke="#131722" stroke-width="0.9" fill="none"><circle cx="798.9" cy="60.2" r="3.3"/><path d="M795.0 64.3L802.8 56.1"/></g>
<g stroke="#131722" stroke-width="0.9" fill="none"><circle cx="814.2" cy="60.2" r="3.3"/><path d="M810.3 64.3L818.1 56.1"/></g>
<g stroke="#131722" stroke-width="0.9" fill="none"><circle cx="829.6" cy="60.2" r="3.3"/><path d="M825.7 64.3L833.5 56.1"/></g>
<g stroke="#131722" stroke-width="0.9" fill="none"><circle cx="845.0" cy="60.2" r="3.3"/><path d="M841.1 64.3L848.9 56.1"/></g>
<g stroke="#131722" stroke-width="0.9" fill="none"><circle cx="860.3" cy="60.2" r="3.3"/><path d="M856.4 64.3L864.2 56.1"/></g>
<g stroke="#131722" stroke-width="0.9" fill="none"><circle cx="875.7" cy="60.2" r="3.3"/><path d="M871.8 64.3L879.6 56.1"/></g>
<g stroke="#131722" stroke-width="0.9" fill="none"><circle cx="891.1" cy="60.2" r="3.3"/><path d="M887.2 64.3L895.0 56.1"/></g>
<g stroke="#131722" stroke-width="0.9" fill="none"><circle cx="906.4" cy="60.2" r="3.3"/><path d="M902.5 64.3L910.3 56.1"/></g>
<g stroke="#131722" stroke-width="0.9" fill="none"><circle cx="921.8" cy="60.2" r="3.3"/><path d="M917.9 64.3L925.7 56.1"/></g>
<g stroke="#131722" stroke-width="0.9" fill="none"><circle cx="937.2" cy="60.2" r="3.3"/><path d="M933.3 64.3L941.1 56.1"/></g>
<g stroke="#131722" stroke-width="0.9" fill="none"><circle cx="952.5" cy="60.2" r="3.3"/><path d="M948.6 64.3L956.4 56.1"/></g>
<g stroke="#131722" stroke-width="0.9" fill="none"><circle cx="967.9" cy="60.2" r="3.3"/><path d="M964.0 64.3L971.8 56.1"/></g>
<g stroke="#131722" stroke-width="0.9" fill="none"><circle cx="983.3" cy="60.2" r="3.3"/><path d="M979.4 64.3L987.2 56.1"/></g>
<g stroke="#131722" stroke-width="0.9" fill="none"><circle cx="998.6" cy="60.2" r="3.3"/><path d="M994.7 64.3L1002.5 56.1"/></g>
<g stroke="#131722" stroke-width="0.9" fill="none"><circle cx="1014.0" cy="60.2" r="3.3"/><path d="M1010.1 64.3L1017.9 56.1"/></g>
<text x="18.1" y="842.7" font-size="13" fill="#131722" textLength="191.8" lengthAdjust="spacingAndGlyphs">Croc 3.0 Lochstreifen - Basic (off)</text>
<g stroke="#131722" stroke-width="0.9" fill="none"><circle cx="221.0" cy="838.6" r="3.3"/><path d="M217.1 842.7L224.9 834.5"/></g>
<g stroke="#131722" stroke-width="0.9" fill="none"><circle cx="236.6" cy="838.6" r="3.3"/><path d="M232.7 842.7L240.5 834.5"/></g>
<g stroke="#131722" stroke-width="0.9" fill="none"><circle cx="251.8" cy="838.6" r="3.3"/><path d="M247.9 842.7L255.7 834.5"/></g>
<g stroke="#131722" stroke-width="0.9" fill="none"><circle cx="267.4" cy="838.6" r="3.3"/><path d="M263.5 842.7L271.3 834.5"/></g>
<g stroke="#131722" stroke-width="0.9" fill="none"><circle cx="328.0" cy="838.6" r="3.3"/><path d="M324.1 842.7L331.9 834.5"/></g>
<g stroke="#131722" stroke-width="0.9" fill="none"><circle cx="343.5" cy="838.6" r="3.3"/><path d="M339.6 842.7L347.4 834.5"/></g>
<g stroke="#131722" stroke-width="0.9" fill="none"><circle cx="447.4" cy="838.6" r="3.3"/><path d="M443.5 842.7L451.3 834.5"/></g>
<g stroke="#131722" stroke-width="0.9" fill="none"><circle cx="506.4" cy="838.6" r="3.3"/><path d="M502.5 842.7L510.3 834.5"/></g>
<g stroke="#131722" stroke-width="0.9" fill="none"><circle cx="521.6" cy="838.6" r="3.3"/><path d="M517.7 842.7L525.5 834.5"/></g>
<g stroke="#131722" stroke-width="0.9" fill="none"><circle cx="576.4" cy="838.6" r="3.3"/><path d="M572.5 842.7L580.3 834.5"/></g>
<g stroke="#131722" stroke-width="0.9" fill="none"><circle cx="631.5" cy="838.6" r="3.3"/><path d="M627.6 842.7L635.4 834.5"/></g>
<g stroke="#131722" stroke-width="0.9" fill="none"><circle cx="646.9" cy="838.6" r="3.3"/><path d="M643.0 842.7L650.8 834.5"/></g>
<g stroke="#131722" stroke-width="0.9" fill="none"><circle cx="700.4" cy="838.6" r="3.3"/><path d="M696.5 842.7L704.3 834.5"/></g>
<g stroke="#131722" stroke-width="0.9" fill="none"><circle cx="715.8" cy="838.6" r="3.3"/><path d="M711.9 842.7L719.7 834.5"/></g>
<g stroke="#131722" stroke-width="0.9" fill="none"><circle cx="731.0" cy="838.6" r="3.3"/><path d="M727.1 842.7L734.9 834.5"/></g>
<g stroke="#131722" stroke-width="0.9" fill="none"><circle cx="746.2" cy="838.6" r="3.3"/><path d="M742.3 842.7L750.1 834.5"/></g>
<g stroke="#131722" stroke-width="0.9" fill="none"><circle cx="801.7" cy="838.6" r="3.3"/><path d="M797.8 842.7L805.6 834.5"/></g>
<g stroke="#131722" stroke-width="0.9" fill="none"><circle cx="816.9" cy="838.6" r="3.3"/><path d="M813.0 842.7L820.8 834.5"/></g>
<text x="278.8" y="842.7" font-size="13" fill="#131722" textLength="38.1" lengthAdjust="spacingAndGlyphs">14,000</text>
<text x="355.0" y="842.7" font-size="13" fill="#ff0000" textLength="37.8" lengthAdjust="spacingAndGlyphs">10,500</text>
<text x="400.5" y="842.7" font-size="13" fill="#ffff00" textLength="35.8" lengthAdjust="spacingAndGlyphs">11,500</text>
<text x="459.0" y="842.7" font-size="13" fill="#00ff00" textLength="35.8" lengthAdjust="spacingAndGlyphs">11,500</text>
<text x="533.3" y="842.7" font-size="13" fill="#ff0000" textLength="32.0" lengthAdjust="spacingAndGlyphs">9,500</text>
<text x="588.4" y="842.7" font-size="13" fill="#ff0000" textLength="31.9" lengthAdjust="spacingAndGlyphs">8,500</text>
<text x="658.5" y="842.7" font-size="13" fill="#ff0000" textLength="30.8" lengthAdjust="spacingAndGlyphs">7,500</text>
<text x="757.8" y="842.7" font-size="13" fill="#ff0000" textLength="32.3" lengthAdjust="spacingAndGlyphs">6,500</text>
<text x="526.4" y="854.0" font-size="12" fill="#131722" textLength="160.2" lengthAdjust="spacingAndGlyphs">ICE Trading Deluxe Big Point</text>
<text x="414.7" y="938.0" font-size="12" fill="#131722" textLength="385.1" lengthAdjust="spacingAndGlyphs">Von oben: Status / Kerzenfarbe / Wolkenfarbe / Trend / Setter / Welle</text>
<text x="10.5" y="1170.5" font-size="12" fill="#131722" textLength="20.7" lengthAdjust="spacingAndGlyphs">Mrz</text>
<text x="192.0" y="1170.5" font-size="12" fill="#131722" text-anchor="middle" textLength="19.5" lengthAdjust="spacingAndGlyphs">Apr</text>
<text x="355.0" y="1170.5" font-size="12" fill="#131722" text-anchor="middle" textLength="19.5" lengthAdjust="spacingAndGlyphs">Mai</text>
<text x="525.5" y="1170.5" font-size="12" fill="#131722" text-anchor="middle" textLength="19.5" lengthAdjust="spacingAndGlyphs">Jun</text>
<text x="696.0" y="1170.5" font-size="12" fill="#131722" text-anchor="middle" textLength="15.0" lengthAdjust="spacingAndGlyphs">Jul</text>
<text x="883.5" y="1170.5" font-size="12" fill="#131722" text-anchor="middle" textLength="22.0" lengthAdjust="spacingAndGlyphs">Aug</text>
<text x="1054.5" y="1170.5" font-size="12" fill="#131722" text-anchor="middle" textLength="22.0" lengthAdjust="spacingAndGlyphs">Sep</text>
<text x="1233.0" y="1170.5" font-size="12" fill="#131722" text-anchor="middle" textLength="20.0" lengthAdjust="spacingAndGlyphs">Okt</text>
<text x="1420.0" y="1170.5" font-size="12" fill="#131722" text-anchor="middle" textLength="22.5" lengthAdjust="spacingAndGlyphs">Nov</text>
<text x="1583.0" y="1170.5" font-size="12" fill="#131722" text-anchor="middle" textLength="22.0" lengthAdjust="spacingAndGlyphs">Dez</text>
<text x="1917.0" y="1170.5" font-size="12" fill="#131722" text-anchor="middle" textLength="20.5" lengthAdjust="spacingAndGlyphs">Feb</text>
<text x="2080.0" y="1170.5" font-size="12" fill="#131722" text-anchor="middle" textLength="20.7" lengthAdjust="spacingAndGlyphs">Mrz</text>
<text x="1738.0" y="1170.5" font-size="12" fill="#131722" text-anchor="middle" textLength="30.5" lengthAdjust="spacingAndGlyphs" font-weight="bold">2026</text>
<rect x="2153" y="28" width="69" height="1124" fill="#ffffff"/>
<rect x="2157.5" y="31.5" width="62" height="25.5" rx="4" fill="#ffffff" stroke="#ebedf1" stroke-width="1"/>
<text x="2166.0" y="47.8" font-size="12" fill="#131722" textLength="23.5" lengthAdjust="spacingAndGlyphs">EUR</text>
<text x="2162.3" y="83.8" font-size="12" fill="#131722" textLength="38.0" lengthAdjust="spacingAndGlyphs">164,00</text>
<text x="2162.3" y="122.0" font-size="12" fill="#131722" textLength="38.0" lengthAdjust="spacingAndGlyphs">160,00</text>
<text x="2162.3" y="160.8" font-size="12" fill="#131722" textLength="38.0" lengthAdjust="spacingAndGlyphs">156,00</text>
<text x="2162.3" y="199.3" font-size="12" fill="#131722" textLength="38.0" lengthAdjust="spacingAndGlyphs">152,00</text>
<text x="2162.3" y="237.8" font-size="12" fill="#131722" textLength="38.0" lengthAdjust="spacingAndGlyphs">148,00</text>
<text x="2162.3" y="276.3" font-size="12" fill="#131722" textLength="38.0" lengthAdjust="spacingAndGlyphs">144,00</text>
<text x="2162.3" y="315.0" font-size="12" fill="#131722" textLength="38.0" lengthAdjust="spacingAndGlyphs">140,00</text>
<text x="2162.3" y="353.6" font-size="12" fill="#131722" textLength="38.0" lengthAdjust="spacingAndGlyphs">136,00</text>
<text x="2162.3" y="392.3" font-size="12" fill="#131722" textLength="38.0" lengthAdjust="spacingAndGlyphs">132,00</text>
<text x="2162.3" y="430.3" font-size="12" fill="#131722" textLength="38.0" lengthAdjust="spacingAndGlyphs">128,00</text>
<text x="2162.3" y="469.3" font-size="12" fill="#131722" textLength="38.0" lengthAdjust="spacingAndGlyphs">124,00</text>
<text x="2162.3" y="507.8" font-size="12" fill="#131722" textLength="38.0" lengthAdjust="spacingAndGlyphs">120,00</text>
<text x="2162.3" y="584.8" font-size="12" fill="#131722" textLength="38.0" lengthAdjust="spacingAndGlyphs">112,00</text>
<text x="2162.3" y="623.3" font-size="12" fill="#131722" textLength="38.0" lengthAdjust="spacingAndGlyphs">108,00</text>
<text x="2162.3" y="662.3" font-size="12" fill="#131722" textLength="38.0" lengthAdjust="spacingAndGlyphs">104,00</text>
<text x="2162.3" y="843.1" font-size="12" fill="#131722" textLength="38.0" lengthAdjust="spacingAndGlyphs">15,000</text>
<text x="2162.3" y="876.8" font-size="12" fill="#131722" textLength="38.0" lengthAdjust="spacingAndGlyphs">14,000</text>
<text x="2162.3" y="909.9" font-size="12" fill="#131722" textLength="38.0" lengthAdjust="spacingAndGlyphs">13,000</text>
<text x="2162.3" y="943.2" font-size="12" fill="#131722" textLength="38.0" lengthAdjust="spacingAndGlyphs">12,000</text>
<text x="2162.3" y="977.3" font-size="12" fill="#131722" textLength="38.0" lengthAdjust="spacingAndGlyphs">11,000</text>
<text x="2162.3" y="1011.3" font-size="12" fill="#131722" textLength="38.0" lengthAdjust="spacingAndGlyphs">10,000</text>
<rect x="2154" y="428.5" width="50" height="17" fill="#ffffff"/>
<text x="2162.3" y="441.2" font-size="12" fill="#000000" textLength="37.0" lengthAdjust="spacingAndGlyphs">126,97</text>
<g clip-path="url(#cl)"><rect x="2154" y="814" width="52" height="17" rx="2" fill="#7a0000"/>
<text x="2162.3" y="826.0" font-size="12" fill="#fff" textLength="38.0" lengthAdjust="spacingAndGlyphs">14,000</text>
</g>
<path d="M2154 153H2201.5Q2204 153 2204 155.5V167.5Q2204 170 2201.5 170H2154Z" fill="#9c2a2a"/>
<text x="2162.3" y="165.0" font-size="12" fill="#fff" textLength="36.0" lengthAdjust="spacingAndGlyphs">153,01</text>
<path d="M2154 170H2201.5Q2204 170 2204 172.5V184.5Q2204 187 2201.5 187H2154Z" fill="#8c8c8c"/>
<text x="2162.3" y="182.0" font-size="12" fill="#fff" textLength="36.0" lengthAdjust="spacingAndGlyphs">153,01</text>
<path d="M2154 187H2202.5Q2205 187 2205 189.5V201.5Q2205 204 2202.5 204H2154Z" fill="#8c8c8c"/>
<text x="2162.3" y="199.0" font-size="12" fill="#fff" textLength="37.0" lengthAdjust="spacingAndGlyphs">152,07</text>
<path d="M2154 217H2203.5Q2206 217 2206 219.5V231.5Q2206 234 2203.5 234H2154Z" fill="#ff00ff"/>
<text x="2162.3" y="229.0" font-size="12" fill="#fff" textLength="38.0" lengthAdjust="spacingAndGlyphs">148,96</text>
<path d="M2154 246H2201.5Q2204 246 2204 248.5V260.5Q2204 263 2201.5 263H2154Z" fill="#ff9d3e"/>
<text x="2162.3" y="258.0" font-size="12" fill="#000" textLength="36.0" lengthAdjust="spacingAndGlyphs">144,71</text>
<path d="M2154 263H2203.5Q2206 263 2206 265.5V277.5Q2206 280 2203.5 280H2154Z" fill="#3cb371"/>
<text x="2162.3" y="275.0" font-size="12" fill="#fff" textLength="37.5" lengthAdjust="spacingAndGlyphs">144,27</text>
<path d="M2154 335H2202.5Q2205 335 2205 337.5V349.5Q2205 352 2202.5 352H2154Z" fill="#0a7a0a"/>
<text x="2162.3" y="347.0" font-size="12" fill="#fff" textLength="37.0" lengthAdjust="spacingAndGlyphs">136,77</text>
<path d="M2154 397H2201.5Q2204 397 2204 399.5V411.5Q2204 414 2201.5 414H2154Z" fill="#00ff00"/>
<text x="2162.3" y="409.0" font-size="12" fill="#000" textLength="36.0" lengthAdjust="spacingAndGlyphs">130,31</text>
<path d="M2154 462H2197.5Q2200 462 2200 464.5V476.5Q2200 479 2197.5 479H2154Z" fill="#3cb371"/>
<text x="2162.3" y="474.0" font-size="12" fill="#fff" textLength="33.0" lengthAdjust="spacingAndGlyphs">117,91</text>
<path d="M2154 479H2199.5Q2202 479 2202 481.5V493.5Q2202 496 2199.5 496H2154Z" fill="#00ff00"/>
<text x="2162.3" y="491.0" font-size="12" fill="#000" textLength="34.5" lengthAdjust="spacingAndGlyphs">116,81</text>
<path d="M2154 496H2201.5Q2204 496 2204 498.5V510.5Q2204 513 2201.5 513H2154Z" fill="#ff0000"/>
<text x="2162.3" y="508.0" font-size="12" fill="#fff" textLength="35.5" lengthAdjust="spacingAndGlyphs">115,25</text>
<path d="M2154 544.3H2201.5Q2204 544.3 2204 546.8V558.5Q2204 561.0 2201.5 561.0H2154Z" fill="#c0c0c0"/>
<text x="2162.3" y="556.3" font-size="12" fill="#000" textLength="36.0" lengthAdjust="spacingAndGlyphs">115,05</text>
<path d="M2154 567H2201.5Q2204 567 2204 569.5V581.5Q2204 584 2201.5 584H2154Z" fill="#00e5ff"/>
<text x="2162.3" y="579.0" font-size="12" fill="#000" textLength="36.0" lengthAdjust="spacingAndGlyphs">112,63</text>
<path d="M2154 584H2199.5Q2202 584 2202 586.5V598.5Q2202 601 2199.5 601H2154Z" fill="#ff0000"/>
<text x="2162.3" y="596.0" font-size="12" fill="#fff" textLength="34.0" lengthAdjust="spacingAndGlyphs">111,99</text>
<path d="M2154 601H2198.5Q2201 601 2201 603.5V615.5Q2201 618 2198.5 618H2154Z" fill="#8c8c8c"/>
<text x="2162.3" y="613.0" font-size="12" fill="#fff" textLength="33.0" lengthAdjust="spacingAndGlyphs">111,78</text>
<path d="M2154 618H2201.5Q2204 618 2204 620.5V632.5Q2204 635 2201.5 635H2154Z" fill="#0000ff"/>
<text x="2162.3" y="630.0" font-size="12" fill="#fff" textLength="35.5" lengthAdjust="spacingAndGlyphs">110,23</text>
<path d="M2154 635H2201.5Q2204 635 2204 637.5V649.5Q2204 652 2201.5 652H2154Z" fill="#ff0000"/>
<text x="2162.3" y="647.0" font-size="12" fill="#fff" textLength="35.5" lengthAdjust="spacingAndGlyphs">110,23</text>
<path d="M2154 652H2201.5Q2204 652 2204 654.5V666.5Q2204 669 2201.5 669H2154Z" fill="#00ff00"/>
<text x="2162.3" y="664.0" font-size="12" fill="#000" textLength="35.5" lengthAdjust="spacingAndGlyphs">110,23</text>
<path d="M2154 669H2199.5Q2202 669 2202 671.5V683.5Q2202 686 2199.5 686H2154Z" fill="#0000ff"/>
<text x="2162.3" y="681.0" font-size="12" fill="#fff" textLength="34.0" lengthAdjust="spacingAndGlyphs">110,16</text>
<path d="M2154 686H2203.5Q2206 686 2206 688.5V700.5Q2206 703 2203.5 703H2154Z" fill="#ffff00"/>
<text x="2162.3" y="698.0" font-size="12" fill="#000" textLength="37.5" lengthAdjust="spacingAndGlyphs">109,95</text>
<path d="M2154 703H2202.5Q2205 703 2205 705.5V717.5Q2205 720 2202.5 720H2154Z" fill="#ffff00"/>
<text x="2162.3" y="715.0" font-size="12" fill="#000" textLength="37.0" lengthAdjust="spacingAndGlyphs">108,74</text>
<path d="M2154 720H2203.5Q2206 720 2206 722.5V734.5Q2206 737 2203.5 737H2154Z" fill="#ff00ff"/>
<text x="2162.3" y="732.0" font-size="12" fill="#fff" textLength="37.5" lengthAdjust="spacingAndGlyphs">108,53</text>
<path d="M2154 737H2203.5Q2206 737 2206 739.5V751.5Q2206 754 2203.5 754H2154Z" fill="#0000ff"/>
<text x="2162.3" y="749.0" font-size="12" fill="#fff" textLength="38.0" lengthAdjust="spacingAndGlyphs">108,29</text>
<path d="M2154 754H2202.5Q2205 754 2205 756.5V768.5Q2205 771 2202.5 771H2154Z" fill="#00ff00"/>
<text x="2162.3" y="766.0" font-size="12" fill="#000" textLength="37.0" lengthAdjust="spacingAndGlyphs">108,27</text>
<path d="M2154 771H2201.5Q2204 771 2204 773.5V785.5Q2204 788 2201.5 788H2154Z" fill="#ff0000"/>
<text x="2162.3" y="783.0" font-size="12" fill="#fff" textLength="36.0" lengthAdjust="spacingAndGlyphs">108,13</text>
<path d="M2154 788H2202.5Q2205 788 2205 790.5V802.5Q2205 805 2202.5 805H2154Z" fill="#ff9d3e"/>
<text x="2162.3" y="800.0" font-size="12" fill="#000" textLength="37.0" lengthAdjust="spacingAndGlyphs">105,22</text>
<path d="M2154 805H2201.5Q2204 805 2204 807.5V819.5Q2204 822 2201.5 822H2154Z" fill="#00ff00"/>
<text x="2162.3" y="817.0" font-size="12" fill="#000" textLength="36.0" lengthAdjust="spacingAndGlyphs">104,61</text>
<path d="M2154 831H2203.5Q2206 831 2206 833.5V845.5Q2206 848 2203.5 848H2154Z" fill="#0a7a0a"/>
<text x="2162.3" y="843.0" font-size="12" fill="#fff" textLength="38.0" lengthAdjust="spacingAndGlyphs">14,000</text>
<path d="M2154 848H2203.5Q2206 848 2206 850.5V862.5Q2206 865 2203.5 865H2154Z" fill="#ff0000"/>
<text x="2162.3" y="860.0" font-size="12" fill="#fff" textLength="38.0" lengthAdjust="spacingAndGlyphs">14,000</text>
<path d="M2154 865H2203.5Q2206 865 2206 867.5V879.5Q2206 882 2203.5 882H2154Z" fill="#00ff00"/>
<text x="2162.3" y="877.0" font-size="12" fill="#000" textLength="38.0" lengthAdjust="spacingAndGlyphs">14,000</text>
<path d="M2154 949H2201.5Q2204 949 2204 951.5V963.5Q2204 966 2201.5 966H2154Z" fill="#ffff00"/>
<text x="2162.3" y="961.0" font-size="12" fill="#000" textLength="36.0" lengthAdjust="spacingAndGlyphs">11,500</text>
<path d="M2154 966H2201.5Q2204 966 2204 968.5V980.5Q2204 983 2201.5 983H2154Z" fill="#ff0000"/>
<text x="2162.3" y="978.0" font-size="12" fill="#fff" textLength="36.0" lengthAdjust="spacingAndGlyphs">11,500</text>
<path d="M2154 983H2201.5Q2204 983 2204 985.5V997.5Q2204 1000 2201.5 1000H2154Z" fill="#00ff00"/>
<text x="2162.3" y="995.0" font-size="12" fill="#000" textLength="36.0" lengthAdjust="spacingAndGlyphs">11,500</text>
<path d="M2154 1000H2203.5Q2206 1000 2206 1002.5V1014.5Q2206 1017 2203.5 1017H2154Z" fill="#00ff00"/>
<text x="2162.3" y="1012.0" font-size="12" fill="#000" textLength="38.0" lengthAdjust="spacingAndGlyphs">10,500</text>
<path d="M2154 1017H2203.5Q2206 1017 2206 1019.5V1031.5Q2206 1034 2203.5 1034H2154Z" fill="#000000"/>
<text x="2162.3" y="1029.0" font-size="12" fill="#fff" textLength="38.0" lengthAdjust="spacingAndGlyphs">10,500</text>
<path d="M2154 1034H2203.5Q2206 1034 2206 1036.5V1048.5Q2206 1051 2203.5 1051H2154Z" fill="#ff0000"/>
<text x="2162.3" y="1046.0" font-size="12" fill="#fff" textLength="38.0" lengthAdjust="spacingAndGlyphs">10,500</text>
<path d="M2154 1051H2197.5Q2200 1051 2200 1053.5V1065.5Q2200 1068 2197.5 1068H2154Z" fill="#00ff00"/>
<text x="2162.3" y="1063.0" font-size="12" fill="#000" textLength="32.0" lengthAdjust="spacingAndGlyphs">9,500</text>
<path d="M2154 1068H2197.5Q2200 1068 2200 1070.5V1082.5Q2200 1085 2197.5 1085H2154Z" fill="#ff0000"/>
<text x="2162.3" y="1080.0" font-size="12" fill="#fff" textLength="32.0" lengthAdjust="spacingAndGlyphs">9,500</text>
<path d="M2154 1085H2197.5Q2200 1085 2200 1087.5V1099.5Q2200 1102 2197.5 1102H2154Z" fill="#000000"/>
<text x="2162.3" y="1097.0" font-size="12" fill="#fff" textLength="32.0" lengthAdjust="spacingAndGlyphs">8,500</text>
<path d="M2154 1102H2197.5Q2200 1102 2200 1104.5V1116.5Q2200 1119 2197.5 1119H2154Z" fill="#ff0000"/>
<text x="2162.3" y="1114.0" font-size="12" fill="#fff" textLength="32.0" lengthAdjust="spacingAndGlyphs">8,500</text>
<path d="M2154 1119H2197.5Q2200 1119 2200 1121.5V1133.5Q2200 1136 2197.5 1136H2154Z" fill="#00ff00"/>
<text x="2162.3" y="1131.0" font-size="12" fill="#000" textLength="32.0" lengthAdjust="spacingAndGlyphs">8,500</text>
<path d="M2154 1136H2196.5Q2199 1136 2199 1138.5V1149.5Q2199 1152 2196.5 1152H2154Z" fill="#000000"/>
<text x="2162.3" y="1148.0" font-size="12" fill="#fff" textLength="31.0" lengthAdjust="spacingAndGlyphs">7,500</text>
<path d="M2154 513H2216.5Q2219 513 2219 515.5V541.3Q2219 543.8 2216.5 543.8H2154Z" fill="#00ff00"/>
<text x="2162.3" y="525.0" font-size="12" fill="#000" textLength="36.0" lengthAdjust="spacingAndGlyphs">115,05</text>
<text x="2162.3" y="539.0" font-size="12" fill="#0a3d0a" textLength="50.5" lengthAdjust="spacingAndGlyphs">08:07:36</text>
<rect x="2118" y="513" width="35" height="17" rx="2" fill="#00ff00"/>
<text x="2123.2" y="525.0" font-size="12" fill="#000" textLength="25.5" lengthAdjust="spacingAndGlyphs">MRK</text>
</g>
<g fill="#131722"><path d="M12 1201.6H24V1216.6H18V1207.6H12Z"/><circle cx="29" cy="1204.6" r="3"/><path d="M35.3 1201.6H42L35.8 1216.6H29Z"/></g>
<text x="48.5" y="1217" font-family='"Liberation Sans", sans-serif' font-size="22" font-weight="bold" fill="#131722" textLength="121.5" lengthAdjust="spacingAndGlyphs">TradingView</text>
</svg>
</body></html>
